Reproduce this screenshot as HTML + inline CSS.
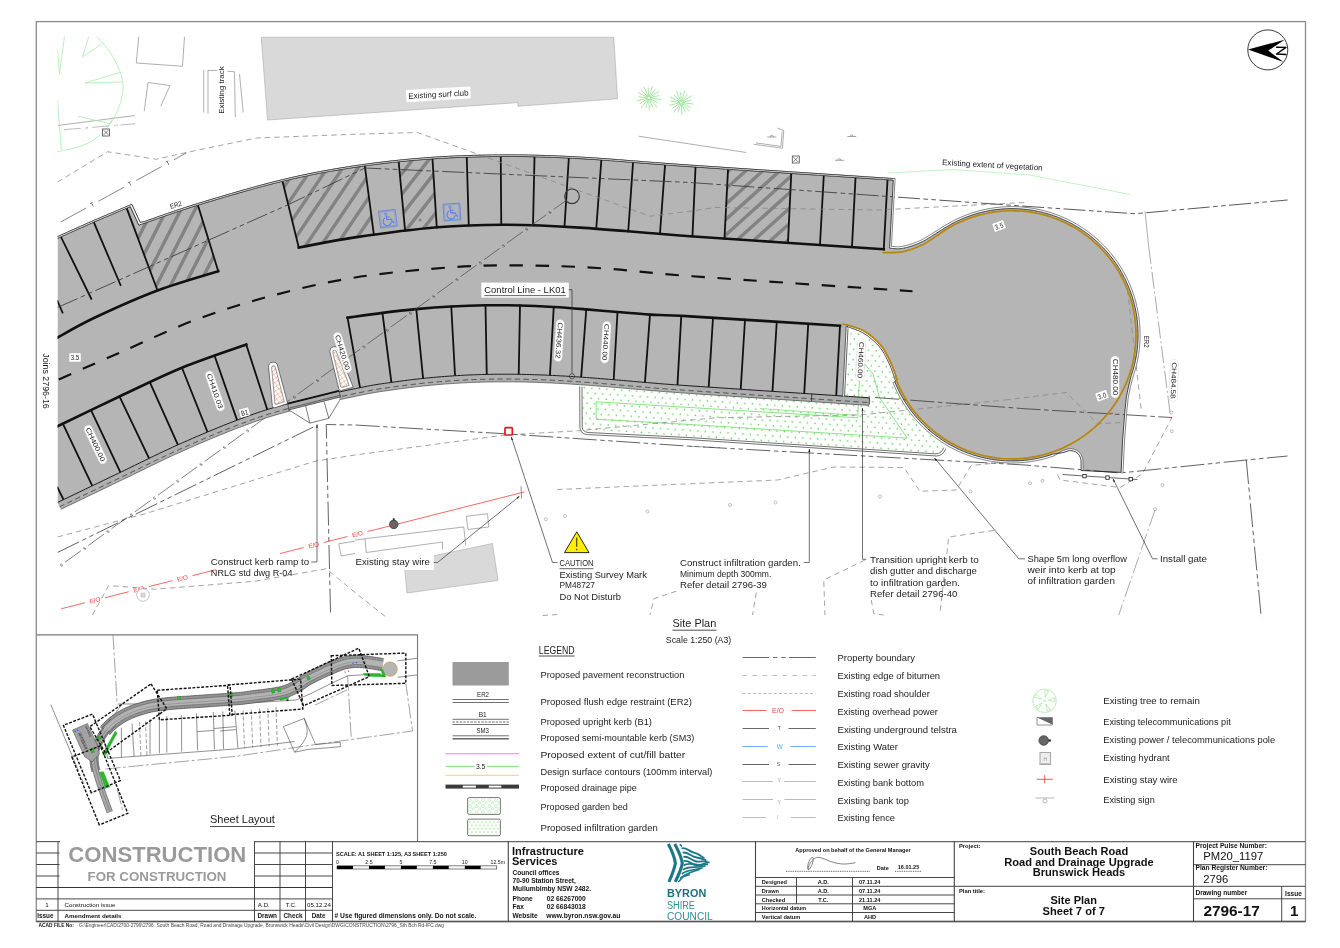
<!DOCTYPE html>
<html><head><meta charset="utf-8"><title>Site Plan 2796-17</title>
<style>
html,body{margin:0;padding:0;background:#fff;}
body{width:1340px;height:948px;overflow:hidden;font-family:"Liberation Sans",sans-serif;}
svg{display:block;filter:brightness(1);font-family:"Liberation Sans",sans-serif;}
.c{font-family:"Liberation Sans",sans-serif;fill:#1c1c1c;}
.b{font-weight:bold;fill:#111;}
</style></head><body>
<svg width="1340" height="948" viewBox="0 0 1340 948">
<rect x="0" y="0" width="1340" height="948" fill="#fff"/>
<defs>
<clipPath id="vp"><rect x="57.5" y="36.6" width="1232" height="584"/></clipPath>
<pattern id="h1" width="40" height="12.7" patternUnits="userSpaceOnUse" patternTransform="rotate(-56)"><rect x="0" y="0" width="40" height="3.3" fill="#838383"/></pattern>
<pattern id="h2" width="40" height="12.7" patternUnits="userSpaceOnUse" patternTransform="rotate(-52)"><rect x="0" y="0" width="40" height="3.3" fill="#838383"/></pattern>
<pattern id="h3" width="40" height="11.6" patternUnits="userSpaceOnUse" patternTransform="rotate(-63)"><rect x="0" y="0" width="40" height="3.3" fill="#838383"/></pattern>
<pattern id="h4" width="40" height="11.4" patternUnits="userSpaceOnUse" patternTransform="rotate(-42)"><rect x="0" y="0" width="40" height="3.3" fill="#838383"/></pattern>
<pattern id="dots" width="7.5" height="10.2" patternUnits="userSpaceOnUse" patternTransform="rotate(3.8)"><rect x="0.6" y="0.6" width="1.35" height="1.35" fill="#4fcf48"/><rect x="4.35" y="5.7" width="1.35" height="1.35" fill="#4fcf48"/></pattern>
<pattern id="xh" width="5.2" height="5.2" patternUnits="userSpaceOnUse" patternTransform="rotate(12)"><path d="M-1 -1L6.2 6.2M6.2 -1L-1 6.2" stroke="#f29c7e" stroke-width="0.6" fill="none"/></pattern>
<marker id="ar" viewBox="0 0 10 10" refX="9.5" refY="5" markerWidth="7.6" markerHeight="4.6" orient="auto-start-reverse"><path d="M0 2.4L10 5L0 7.6Z" fill="#111"/></marker>
</defs>
<g id="plan" clip-path="url(#vp)">
<path d="M261.25 37L613.75 37L617.5 98.75L518 106.25L518 102.6L267.5 120Z" fill="#d9d9d9" stroke="#a9a9a9" stroke-width="0.6"/>
<path d="M404 562L492.5 543.5L498 580.5L407 593Z" fill="#d9d9d9" stroke="#a9a9a9" stroke-width="0.6"/>
<path d="M138.75 36.6L136.25 63L182.5 66.25L184.5 36.6M144.25 111.25L148 82.5L170 85.5L160.75 106.25M203.75 70L203.75 112.5M208 70L208 113.75M208 70.4L217.5 70.4M227.5 71.2L234 71.7M234.5 71.5L235.3 117M239.5 74L243.25 112.5M57.5 125.5L135 115.5M638.75 136.25L746.25 152.5M753.75 144.25L782.5 148.25L783.75 130.75L777.5 128M756 142.9L781 146.4L782.2 131.5M355 540L365 538.75L463.75 527L465.75 545.5M365 538.75L366.25 552.5L442.5 542L442.5 549.25M466.25 516.25L487.5 513.75L488.75 527L468 529.5ZM338.75 543.75L355 541.25M338.75 543.75L341.25 556L355 553.5" fill="none" stroke="#8c8c8c" stroke-width="0.7"/>
<path d="M57.5 238.3 L59.32 237.49 L61.6 236.46 L64.29 235.26 L67.3 233.91 L70.57 232.44 L74.04 230.89 L77.62 229.28 L81.27 227.66 L84.89 226.05 L88.44 224.48 L91.83 222.99 L95 221.6 L98.14 220.24 L101.43 218.83 L104.83 217.38 L108.27 215.92 L111.69 214.47 L115.04 213.06 L118.27 211.7 L121.3 210.43 L124.09 209.26 L126.57 208.21 L128.7 207.32 L130.4 206.6 L138.9 225.1 L141.65 224.15 L144.98 222.98 L148.83 221.62 L153.15 220.09 L157.87 218.42 L162.94 216.65 L168.31 214.79 L173.92 212.87 L179.71 210.93 L185.62 208.98 L191.6 207.06 L197.6 205.2 L203.8 203.31 L210.38 201.33 L217.27 199.26 L224.42 197.15 L231.75 195 L239.19 192.85 L246.68 190.72 L254.15 188.64 L261.53 186.63 L268.76 184.71 L275.78 182.9 L282.5 181.24 L288.97 179.71 L295.27 178.27 L301.44 176.91 L307.49 175.63 L313.46 174.42 L319.37 173.27 L325.24 172.18 L331.11 171.13 L336.99 170.12 L342.92 169.15 L348.91 168.2 L355 167.27 L361.16 166.36 L367.36 165.49 L373.57 164.66 L379.81 163.87 L386.07 163.12 L392.34 162.41 L398.62 161.74 L404.91 161.12 L411.19 160.53 L417.47 159.98 L423.74 159.47 L430 159 L436.25 158.57 L442.5 158.19 L448.75 157.85 L455 157.56 L461.25 157.3 L467.5 157.08 L473.75 156.9 L480 156.75 L486.25 156.64 L492.5 156.56 L498.75 156.5 L505 156.47 L511.14 156.47 L517.09 156.49 L522.93 156.54 L528.7 156.62 L534.48 156.73 L540.31 156.88 L546.27 157.06 L552.41 157.28 L558.79 157.55 L565.47 157.85 L572.52 158.2 L580 158.6 L587.64 159.05 L595.23 159.54 L602.85 160.07 L610.62 160.64 L618.63 161.25 L626.98 161.9 L635.78 162.6 L645.13 163.33 L655.12 164.1 L665.86 164.9 L677.46 165.74 L690 166.62 L704.32 167.6 L720.84 168.71 L739.03 169.92 L758.39 171.21 L778.39 172.53 L798.52 173.86 L818.28 175.16 L837.14 176.4 L854.58 177.55 L870.1 178.57 L883.18 179.43 L893.3 180.1 L893.3 180.1 L889.6 248.2 L890.21 248.23 L890.94 248.29 L891.8 248.38 L892.76 248.47 L893.8 248.57 L894.92 248.66 L896.11 248.73 L897.34 248.77 L898.61 248.77 L899.91 248.71 L901.21 248.59 L902.5 248.4 L903.83 248.14 L905.22 247.83 L906.68 247.47 L908.18 247.06 L909.71 246.61 L911.27 246.12 L912.85 245.6 L914.42 245.05 L915.99 244.47 L917.53 243.87 L919.04 243.24 L920.5 242.6 L921.98 241.89 L923.53 241.08 L925.12 240.2 L926.72 239.27 L928.32 238.3 L929.88 237.34 L931.37 236.39 L932.78 235.49 L934.07 234.65 L935.22 233.91 L936.21 233.29 L937 232.8 L942.46 229.42 L947.89 226.04 L953.48 222.93 L959.23 220.12 L965.11 217.59 L971.11 215.37 L977.22 213.46 L983.42 211.86 L989.69 210.57 L996.01 209.6 L1002.38 208.96 L1008.77 208.64 L1015.17 208.64 L1021.56 208.97 L1027.93 209.62 L1034.25 210.6 L1040.52 211.89 L1046.72 213.5 L1052.82 215.42 L1058.82 217.65 L1064.7 220.18 L1070.44 223 L1076.03 226.11 L1081.46 229.5 L1086.71 233.16 L1091.77 237.09 L1096.62 241.26 L1101.25 245.68 L1105.65 250.32 L1109.81 255.18 L1113.72 260.25 L1117.37 265.5 L1120.75 270.94 L1123.85 276.54 L1126.66 282.29 L1129.17 288.18 L1131.38 294.18 L1133.29 300.29 L1134.88 306.49 L1136.16 312.76 L1137.12 319.09 L1137.75 325.46 L1138.07 331.85 L1138.05 338.25 L1137.72 344.64 L1137.06 351 L1136.07 357.33 L1134.77 363.59 L1133.15 369.78 L1131.22 375.89 L1131.2 375.9 L1128.6 386 L1126.4 397 L1125 410 L1122.6 440 L1121.1 472.4 L1081.1 470.5 L1081.1 461 L1080.65 458.31 L1079.61 455.8 L1077.95 453.65 L1075.8 451.99 L1073.29 450.95 L1070.6 450.6 L1068.79 450.76 L1063 452.6 L1052.67 454.23 L1048.11 455.69 L1043.5 456.98 L1038.84 458.09 L1034.15 459.02 L1029.42 459.78 L1024.66 460.35 L1019.89 460.75 L1015.11 460.96 L1010.32 460.99 L1005.54 460.84 L1000.76 460.51 L996 459.99 L991.26 459.3 L986.55 458.43 L981.88 457.38 L977.26 456.15 L972.68 454.75 L968.16 453.18 L963.7 451.43 L959.31 449.52 L954.99 447.44 L950.76 445.2 L946.62 442.8 L942.57 440.25 L938.62 437.54 L934.77 434.69 L931.04 431.69 L927.42 428.56 L923.93 425.28 L920.56 421.88 L917.32 418.36 L914.22 414.71 L911.26 410.95 L908.44 407.07 L905.78 403.1 L903.26 399.02 L900.91 394.86 L898.71 390.6 L896.67 386.27 L894.8 381.86 L895.44 380.73 L895.13 379.78 L894.78 378.67 L894.38 377.43 L893.95 376.07 L893.48 374.62 L892.97 373.12 L892.43 371.57 L891.86 370.02 L891.26 368.47 L890.64 366.95 L890 365.5 L889.34 364.06 L888.65 362.57 L887.94 361.05 L887.21 359.5 L886.44 357.94 L885.64 356.38 L884.81 354.82 L883.94 353.28 L883.02 351.77 L882.06 350.29 L881.06 348.87 L880 347.5 L878.88 346.17 L877.7 344.86 L876.46 343.56 L875.18 342.29 L873.85 341.04 L872.49 339.82 L871.1 338.65 L869.69 337.51 L868.27 336.43 L866.84 335.39 L865.42 334.42 L864 333.5 L862.52 332.64 L860.93 331.82 L859.26 331.05 L857.54 330.33 L855.81 329.65 L854.1 329.02 L852.45 328.45 L850.88 327.91 L849.44 327.43 L848.16 327 L847.07 326.63 L846.2 326.3 L842.7 396.3 L834.09 395.45 L817.98 394.38 L800.62 393.23 L782.56 392.03 L764.35 390.82 L746.52 389.63 L729.62 388.5 L714.21 387.47 L700.82 386.57 L690 385.83 L681.5 385.24 L674.56 384.75 L668.97 384.35 L664.53 384.02 L661.02 383.75 L658.23 383.52 L655.96 383.33 L654 383.15 L652.13 382.99 L650.15 382.81 L647.84 382.61 L645 382.38 L641.92 382.13 L639.01 381.88 L636.25 381.65 L633.61 381.42 L631.07 381.2 L628.59 380.98 L626.16 380.76 L623.75 380.55 L621.33 380.34 L618.87 380.13 L616.35 379.91 L613.75 379.7 L611.08 379.48 L608.39 379.26 L605.68 379.04 L602.96 378.82 L600.23 378.6 L597.5 378.38 L594.77 378.16 L592.04 377.95 L589.32 377.74 L586.61 377.54 L583.92 377.35 L581.25 377.16 L578.6 376.98 L575.97 376.81 L573.35 376.63 L570.74 376.47 L568.14 376.3 L565.55 376.14 L562.96 375.99 L560.37 375.84 L557.78 375.7 L555.19 375.57 L552.6 375.44 L550 375.32 L547.4 375.2 L544.8 375.09 L542.21 374.98 L539.61 374.88 L537.02 374.79 L534.42 374.7 L531.82 374.62 L529.22 374.54 L526.62 374.48 L524 374.42 L521.38 374.37 L518.75 374.32 L516.11 374.29 L513.46 374.26 L510.8 374.24 L508.13 374.23 L505.46 374.22 L502.78 374.22 L500.1 374.23 L497.43 374.25 L494.75 374.27 L492.08 374.31 L489.41 374.35 L486.75 374.41 L484.1 374.47 L481.45 374.54 L478.8 374.62 L476.16 374.71 L473.52 374.81 L470.88 374.91 L468.23 375.03 L465.59 375.15 L462.95 375.28 L460.3 375.43 L457.65 375.58 L455 375.74 L452.34 375.91 L449.68 376.09 L447.01 376.29 L444.34 376.49 L441.67 376.7 L439 376.92 L436.33 377.14 L433.66 377.38 L430.99 377.63 L428.32 377.89 L425.66 378.15 L423 378.43 L420.34 378.71 L417.69 379 L415.03 379.31 L412.38 379.62 L409.73 379.94 L407.08 380.27 L404.43 380.61 L401.79 380.96 L399.15 381.32 L396.51 381.68 L393.88 382.06 L391.25 382.44 L388.76 382.79 L386.49 383.11 L384.37 383.4 L382.32 383.68 L380.28 383.97 L378.17 384.28 L375.92 384.64 L373.45 385.06 L370.7 385.55 L367.59 386.13 L364.05 386.82 L360 387.65 L355.33 388.61 L350.04 389.7 L344.25 390.91 L338.06 392.21 L331.58 393.59 L324.92 395.03 L318.2 396.5 L311.53 397.99 L305.01 399.49 L298.76 400.96 L292.89 402.4 L287.5 403.79 L282.58 405.11 L277.98 406.38 L273.65 407.63 L269.54 408.86 L265.58 410.09 L261.72 411.34 L257.9 412.62 L254.07 413.94 L250.18 415.33 L246.15 416.79 L241.95 418.34 L237.5 420 L232.84 421.77 L228.05 423.63 L223.14 425.57 L218.15 427.59 L213.08 429.67 L207.97 431.79 L202.83 433.96 L197.69 436.16 L192.56 438.37 L187.47 440.59 L182.44 442.8 L177.5 445 L172.64 447.2 L167.83 449.41 L163.07 451.64 L158.33 453.89 L153.62 456.15 L148.91 458.44 L144.19 460.74 L139.44 463.06 L134.67 465.39 L129.84 467.74 L124.96 470.11 L120 472.5 L114.77 475.01 L109.15 477.7 L103.26 480.53 L97.22 483.43 L91.15 486.34 L85.16 489.22 L79.36 492 L73.89 494.63 L68.85 497.05 L64.36 499.21 L60.54 501.04 L57.5 502.5Z" fill="#b5b5b5" stroke="none"/>
<clipPath id="z1"><path d="M282.5 181.25 L282.5 181.24 L288.97 179.71 L295.27 178.27 L301.44 176.91 L307.49 175.63 L313.46 174.42 L319.37 173.27 L325.24 172.18 L331.11 171.13 L336.99 170.12 L342.92 169.15 L348.91 168.2 L355 167.27 L361.16 166.36 L365 167.5 L373.75 233.75 L367.4 235.59 L361 236.49 L355 237.36 L349.21 238.24 L343.45 239.17 L337.77 240.14 L332.22 241.13 L326.85 242.11 L321.72 243.08 L316.87 244.02 L312.36 244.9 L308.24 245.71 L304.57 246.43 L301.38 247.05 L298.75 247.54 L298.75 247.5Z"/></clipPath><path d="M231.05 219.96L303.83 112.07M241.58 227.06L314.35 119.17M252.11 234.16L324.88 126.28M262.64 241.27L335.41 133.38M273.17 248.37L345.94 140.48M283.7 255.47L356.47 147.58M294.23 262.57L367 154.68M304.76 269.67L377.53 161.79M315.28 276.77L388.06 168.89M325.81 283.88L398.58 175.99M336.34 290.98L409.11 183.09M346.87 298.08L419.64 190.19" clip-path="url(#z1)" stroke="#838383" stroke-width="3.4" fill="none"/>
<clipPath id="z2"><path d="M398.75 162.5 L404.91 161.12 L411.19 160.53 L417.47 159.98 L423.74 159.47 L430 159 L432.5 159.5 L436.75 227 L431.07 227.84 L424.31 228.51 L417.31 229.25 L410.14 230.06 L405 229.5Z"/></clipPath><path d="M350.45 198.16L404.99 128.35M360.46 205.98L415 136.17M370.46 213.8L425.01 143.99M380.47 221.62L435.01 151.81M390.48 229.43L445.02 159.62M400.49 237.25L455.03 167.44M410.49 245.07L465.04 175.26M420.5 252.89L475.04 183.08" clip-path="url(#z2)" stroke="#838383" stroke-width="3.4" fill="none"/>
<clipPath id="z3"><path d="M132.9 224.5 L138.9 225.1 L141.65 224.15 L144.98 222.98 L148.83 221.62 L153.15 220.09 L157.87 218.42 L162.94 216.65 L168.31 214.79 L173.92 212.87 L179.71 210.93 L185.62 208.98 L191.6 207.06 L197.6 205.2 L198 205.5 L218.25 271.25 L218.25 271.25 L215.32 272.16 L211.66 273.25 L207.38 274.53 L202.56 275.95 L197.33 277.51 L191.78 279.19 L186.01 280.96 L180.13 282.8 L174.23 284.69 L168.43 286.62 L162.82 288.56 L157.5 290.5 L157.5 290.5Z"/></clipPath><path d="M79.01 270.85L137.42 156.21M90.23 276.57L148.65 161.93M101.46 282.29L159.88 167.65M112.69 288.01L171.1 173.37M123.91 293.73L182.33 179.09M135.14 299.45L193.56 184.81M146.37 305.17L204.78 190.53M157.59 310.89L216.01 196.25M168.82 316.61L227.24 201.97M180.05 322.33L238.46 207.69M191.27 328.05L249.69 213.41M202.5 333.77L260.92 219.13" clip-path="url(#z3)" stroke="#838383" stroke-width="3.4" fill="none"/>
<clipPath id="z4"><path d="M728 170 L739.03 169.92 L758.39 171.21 L778.39 172.53 L791.25 173.75 L788 241.25 L774.6 242.01 L755.56 240.73 L737.09 239.49 L724.5 238Z"/></clipPath><path d="M680.26 199.15L759.21 128.06M687.89 207.62L766.84 136.53M695.51 216.1L774.47 145.01M703.14 224.57L782.1 153.48M710.77 233.04L789.72 161.95M718.4 241.51L797.35 170.42M726.03 249.98L804.98 178.89M733.65 258.46L812.61 187.36M741.28 266.93L820.24 195.84M748.91 275.4L827.86 204.31" clip-path="url(#z4)" stroke="#838383" stroke-width="3.4" fill="none"/>
<path d="M60.9 236.78L91.25 298.75M93.8 222.12L120.5 285M126.69 208.16L157.5 290.5M197.88 205.11L218.25 271.25M282.5 181.24L298.76 247.54M364.78 165.85L373.87 234.69M398.68 161.74L405.11 230.66M432.46 158.83L436.77 227.33M466.74 157.11L468.76 225.31M500.75 156.49L501.25 224.75M534.52 156.73L533.01 225.23M568.84 158.02L564.5 226.68M601.35 159.96L596.25 228.72M633.04 162.38L628.24 231.34M665.05 164.84L659.95 233.97M695.52 167L692.46 236.41M728.04 169.19L724.47 238.63M791.27 173.38L787.96 242.9M823.79 175.53L819.95 245.02M855.52 177.61L851.96 247.14M887.52 179.72L883.75 249.25M62.85 423.67L92.28 485.8M91.04 410.06L120.41 472.3M119.46 396.51L149.06 458.36M149.81 382.08L177.92 444.81M181.97 367.72L207.5 431.99M214.51 355.53L237.06 420.17M246.25 344.5L267.26 409.57M347.53 317.65L360.02 387.64M382.44 312.91L391.4 382.42M416.29 309.12L423.09 378.42M451.26 306.43L455.04 375.74M485.5 305.25L486.76 374.41M520 305.52L518.73 374.32M553.75 307.05L549.94 375.31M586.26 309.39L581.18 377.16M617.5 312.03L613.7 379.69M649.99 314.58L644.95 382.37M681.27 315.87L677.46 384.96M713 317.76L708.71 387.1M745 319.75L740.71 389.24M776.75 321.75L772.47 391.36M808.25 323.74L804.22 393.47M840 325.75L836.23 395.59M57.5 301L62.5 312.5M57.5 487.5L63.75 500" fill="none" stroke="#111" stroke-width="1.8" stroke-linecap="square"/>
<path d="M57.5 337.5 C63.75 334.17 78.33 325.33 95 317.5 C111.67 309.67 136.96 298.21 157.5 290.5 C178.04 282.79 208.12 274.46 218.25 271.25" fill="none" stroke="#111" stroke-width="2.6" stroke-linecap="square"/>
<path d="M298.75 247.54 C308.12 245.84 331.88 240.74 355 237.36 C378.12 233.98 412.5 229.36 437.5 227.26 C462.5 225.16 481.25 224.69 505 224.75 C528.75 224.8 549.17 225.68 580 227.6 C610.83 229.51 639.38 232.63 690 236.24 C740.62 239.85 851.46 247.08 883.75 249.25" fill="none" stroke="#111" stroke-width="2.6" stroke-linecap="square"/>
<path d="M57.5 426.25 C67.92 421.25 99.17 406.04 120 396.25 C140.83 386.46 161.46 376.12 182.5 367.5 C203.54 358.88 235.62 348.33 246.25 344.5" fill="none" stroke="#111" stroke-width="2.6" stroke-linecap="square"/>
<path d="M347.5 317.66 C353.33 316.87 371.04 314.33 382.5 312.91 C393.96 311.48 404.79 310.2 416.25 309.12 C427.71 308.04 439.71 307.08 451.25 306.44 C462.79 305.79 474.04 305.4 485.5 305.25 C496.96 305.1 508.62 305.22 520 305.52 C531.38 305.82 542.71 306.4 553.75 307.05 C564.79 307.69 575.62 308.56 586.25 309.39 C596.88 310.22 606.88 311.16 617.5 312.03 C628.12 312.89 637.92 313.86 650 314.58 C662.08 315.31 658.33 314.5 690 316.36 C721.67 318.22 815 324.18 840 325.75" fill="none" stroke="#111" stroke-width="2.6" stroke-linecap="square"/>
<path d="M57.5 380 C67.92 375.42 97.08 362.5 120 352.5 C142.92 342.5 170 329.38 195 320 C220 310.62 243.33 303.33 270 296.25 C296.67 289.17 324.17 282.38 355 277.5 C385.83 272.62 425.83 269 455 267 C484.17 265 505 265.25 530 265.5 C555 265.75 577.92 266.71 605 268.5 C632.08 270.29 641.25 272.46 692.5 276.25 C743.75 280.04 875.83 288.75 912.5 291.25" fill="none" stroke="#111" stroke-width="2.15" stroke-dasharray="13.5 12.57" stroke-dashoffset="24.47"/>
<path d="M582 387.4 L580.73 384.74 L583.38 384.93 L586.05 385.12 L588.75 385.32 L591.46 385.53 L594.17 385.74 L596.9 385.95 L599.63 386.17 L602.35 386.39 L605.07 386.61 L607.77 386.83 L610.46 387.05 L613.13 387.27 L615.72 387.49 L618.22 387.7 L620.67 387.91 L623.08 388.12 L625.49 388.33 L627.92 388.55 L630.4 388.77 L632.95 388.99 L635.6 389.22 L638.37 389.46 L641.29 389.7 L644.38 389.95 L647.2 390.18 L649.48 390.38 L651.45 390.56 L653.32 390.72 L655.31 390.9 L657.61 391.1 L660.42 391.32 L663.95 391.6 L668.42 391.93 L674.02 392.33 L680.97 392.82 L689.48 393.41 L700.31 394.15 L713.7 395.05 L729.12 396.09 L746.01 397.22 L763.84 398.4 L782.06 399.61 L800.12 400.81 L817.48 401.96 L833.59 403.03 L844.5 396.4 L848 328.4 L848.8 325.11 L850.07 325.54 L851.52 326.02 L853.1 326.55 L854.78 327.14 L856.52 327.78 L858.29 328.48 L860.07 329.22 L861.81 330.02 L863.48 330.88 L865.05 331.8 L866.52 332.75 L867.99 333.76 L869.46 334.82 L870.92 335.94 L872.37 337.11 L873.8 338.32 L875.2 339.56 L876.57 340.85 L877.89 342.16 L879.17 343.5 L880.39 344.86 L881.56 346.24 L882.67 347.68 L883.72 349.17 L884.72 350.7 L885.66 352.27 L886.56 353.85 L887.42 355.45 L888.23 357.04 L889.01 358.63 L889.75 360.2 L890.47 361.73 L891.15 363.22 L891.82 364.68 L892.48 366.17 L893.12 367.73 L893.73 369.31 L894.31 370.9 L894.86 372.47 L895.37 374 L895.85 375.45 L896.29 376.82 L896.68 378.07 L897.03 379.17 L897.34 380.1 L897.59 380.85 L892.95 382.61 L894.44 386.18 L896.05 389.7 L897.76 393.17 L899.57 396.59 L901.49 399.96 L903.51 403.26 L905.63 406.5 L907.84 409.68 L910.15 412.78 L912.55 415.82 L915.04 418.78 L917.62 421.67 L920.29 424.48 L923.04 427.2 L925.87 429.84 L928.78 432.4 L931.76 434.86 L934.82 437.24 L937.95 439.52 L941.14 441.7 L943.8 447.6 L941.5 452 L936 453.9 L690 437.6 L588 432.5 L583.5 430.6 L582.2 427Z" fill="#fff" stroke="none"/>
<path d="M582 387.4 L580.73 384.74 L583.38 384.93 L586.05 385.12 L588.75 385.32 L591.46 385.53 L594.17 385.74 L596.9 385.95 L599.63 386.17 L602.35 386.39 L605.07 386.61 L607.77 386.83 L610.46 387.05 L613.13 387.27 L615.72 387.49 L618.22 387.7 L620.67 387.91 L623.08 388.12 L625.49 388.33 L627.92 388.55 L630.4 388.77 L632.95 388.99 L635.6 389.22 L638.37 389.46 L641.29 389.7 L644.38 389.95 L647.2 390.18 L649.48 390.38 L651.45 390.56 L653.32 390.72 L655.31 390.9 L657.61 391.1 L660.42 391.32 L663.95 391.6 L668.42 391.93 L674.02 392.33 L680.97 392.82 L689.48 393.41 L700.31 394.15 L713.7 395.05 L729.12 396.09 L746.01 397.22 L763.84 398.4 L782.06 399.61 L800.12 400.81 L817.48 401.96 L833.59 403.03 L844.5 396.4 L848 328.4 L848.8 325.11 L850.07 325.54 L851.52 326.02 L853.1 326.55 L854.78 327.14 L856.52 327.78 L858.29 328.48 L860.07 329.22 L861.81 330.02 L863.48 330.88 L865.05 331.8 L866.52 332.75 L867.99 333.76 L869.46 334.82 L870.92 335.94 L872.37 337.11 L873.8 338.32 L875.2 339.56 L876.57 340.85 L877.89 342.16 L879.17 343.5 L880.39 344.86 L881.56 346.24 L882.67 347.68 L883.72 349.17 L884.72 350.7 L885.66 352.27 L886.56 353.85 L887.42 355.45 L888.23 357.04 L889.01 358.63 L889.75 360.2 L890.47 361.73 L891.15 363.22 L891.82 364.68 L892.48 366.17 L893.12 367.73 L893.73 369.31 L894.31 370.9 L894.86 372.47 L895.37 374 L895.85 375.45 L896.29 376.82 L896.68 378.07 L897.03 379.17 L897.34 380.1 L897.59 380.85 L892.95 382.61 L894.44 386.18 L896.05 389.7 L897.76 393.17 L899.57 396.59 L901.49 399.96 L903.51 403.26 L905.63 406.5 L907.84 409.68 L910.15 412.78 L912.55 415.82 L915.04 418.78 L917.62 421.67 L920.29 424.48 L923.04 427.2 L925.87 429.84 L928.78 432.4 L931.76 434.86 L934.82 437.24 L937.95 439.52 L941.14 441.7 L943.8 447.6 L941.5 452 L936 453.9 L690 437.6 L588 432.5 L583.5 430.6 L582.2 427Z" fill="url(#dots)" stroke="none"/>
<path d="M582 386.6L582.2 427Q582.4 431.6 588 432.5L690 437.6L936 453.9Q941.5 453.6 943.8 447.6" fill="none" stroke="#333" stroke-width="0.7"/>
<path d="M579.7 386.4L579.9 427.5Q580.3 433.8 587.3 434.6L690 439.7L936.5 456Q943 455.8 945.8 448.6" fill="none" stroke="#333" stroke-width="0.7"/>
<path d="M596.2 401.8L690 407.5L857.8 417.8L859.5 378L862 361L873 374L879.5 397.5L907.2 438.1L690 424.5L596.2 419.2Z" fill="none" stroke="#6fdc66" stroke-width="0.8"/>
<path d="M760 408.5L855 415.2" fill="none" stroke="#6fdc66" stroke-width="0.7"/>
<path d="M96.5 36.2 C97.58 37.4 100.33 40.1 103 43.4 C105.67 46.7 109.65 51.27 112.5 56 C115.35 60.73 118.33 66.97 120.1 71.8 C121.87 76.63 122.82 80.8 123.1 85 C123.38 89.2 122.53 93.23 121.8 97 C121.07 100.77 120.47 103.35 118.7 107.6 C116.93 111.85 114.2 118.02 111.2 122.5 C108.2 126.98 104.07 131.33 100.7 134.5 C97.33 137.67 94.47 139.52 91 141.5 C87.53 143.48 84.75 144.83 79.9 146.4 C75.05 147.97 65.72 150.05 61.9 150.9 C58.08 151.75 57.82 151.4 57 151.5" fill="none" stroke="#a8ecaa" stroke-width="0.8"/>
<path d="M88.75 36.6L82.5 56.75L102.5 43.75M120 72.5L85 83L122 82M78 116.25L110.5 123.75L111.5 119.5M64.5 36.6L59.5 73.75L57.5 50M57.5 100L61.25 150" fill="none" stroke="#a8ecaa" stroke-width="0.8"/>
<path d="M649.94 98.15L661.16 99.52M649.82 98.54L658.11 102.77M649.57 98.88L657.27 107.14M649.22 99.1L652.85 107.67M648.81 99.2L649.4 110.48M648.4 99.15L645.68 108.04M648.03 98.96L641.23 107.98M647.74 98.65L639.94 103.72M647.58 98.27L636.57 100.81M647.56 97.85L638.33 96.72M647.68 97.46L637.61 92.33M647.93 97.12L641.59 90.32M648.28 96.9L643.87 86.49M648.69 96.8L648.2 87.51M649.1 96.85L652.4 86.05M649.47 97.04L655.07 89.61M649.76 97.35L659.23 91.19M649.92 97.73L658.98 95.64" fill="none" stroke="#7fe07f" stroke-width="0.7"/>
<path d="M682.44 102.65L693.66 104.02M682.32 103.04L690.61 107.27M682.07 103.38L689.77 111.64M681.72 103.6L685.35 112.17M681.31 103.7L681.9 114.98M680.9 103.65L678.18 112.54M680.53 103.46L673.73 112.48M680.24 103.15L672.44 108.22M680.08 102.77L669.07 105.31M680.06 102.35L670.83 101.22M680.18 101.96L670.11 96.83M680.43 101.62L674.09 94.82M680.78 101.4L676.37 90.99M681.19 101.3L680.7 92.01M681.6 101.35L684.9 90.55M681.97 101.54L687.57 94.11M682.26 101.85L691.73 95.69M682.42 102.23L691.48 100.14" fill="none" stroke="#7fe07f" stroke-width="0.7"/>
<path d="M887.5 173L952.5 169.5L1030 175L1130 194.5" fill="none" stroke="#a8ecaa" stroke-width="0.7"/>
<path d="M57.5 182L107.5 151.75L156.25 159.25L186.25 152.5L256.25 138L355 134.25L417.5 132.5L650 216.25L690 211.25L715 207.5L877.5 210L1025 202.5M57.5 537L145 513.75L315 461.25L355 455L430 445L505 435L577.5 430.8L715.3 417.8L860.7 414.9L959.5 404.7L1005 400M92.5 615L108.75 585.5L155 589.25L255 581.25L326.25 568.75L355 592.5L385 616.25M557 489.5L690 483.75L777.5 480L833.75 467L903.75 467.5L920 491.25L956.25 490L971.25 465.5L1025 460M1057.5 474.5L1060 480L1120 487.5L1142.5 473.75L1171.25 418.75M676.25 591.25L653.75 598.75L650 615M542.5 615.5L557.5 614.5M865 560L823.75 580L825 615M756.25 592.5L752.5 615M993.75 530.5L948.75 537L940 612.5M871.25 600L873.75 613.75L883.75 615M1005 400L1066.25 392.5L1097.5 423.75L1122.5 422.5M1127.5 290L1141.25 410M690 446.3L720 447.6" fill="none" stroke="#858585" stroke-width="0.75" stroke-dasharray="5.5 4"/>
<path d="M63.75 129.7L135 123.75" fill="none" stroke="#aaa" stroke-width="0.8" stroke-dasharray="17 5 1.5 5"/>
<path d="M86.8 128.9L87.7 126.5M116.5 126.4L117.4 124" fill="none" stroke="#aaa" stroke-width="0.7"/>
<path d="M1148.75 247L1170 412.5M1155 510L1118.75 615" fill="none" stroke="#858585" stroke-width="0.7" stroke-dasharray="17 3 2 3"/>
<path d="M1145 211.25L1148.75 247" fill="none" stroke="#8c8c8c" stroke-width="0.7"/>
<path d="M57.5 307.5L287.5 205L365 168L690 182.5L885 196.25L1025 206.25L1135 213.75L1287.5 200" fill="none" stroke="#3a3a3a" stroke-width="0.85" stroke-dasharray="22 3.5 4.5 3.5 4.5 3.5"/>
<path d="M57.5 552.5L317.5 425M330.5 612.5L326.25 424.5L355 425L505 433.75L690 446.25L1025 465L1120 473L1246.25 460L1287.5 456M1246.25 460L1261.25 617.5" fill="none" stroke="#3a3a3a" stroke-width="0.8" stroke-dasharray="24 3.5 4.5 3.5 4.5 3.5"/>
<path d="M875 397.5L1025 408.75L1171.25 417.5" fill="none" stroke="#3a3a3a" stroke-width="0.8" stroke-dasharray="24 3.5 4.5 3.5"/>
<circle cx="1112" cy="413.3" r="0.9" fill="#e33"/><circle cx="1171.3" cy="417.6" r="0.9" fill="#e33"/>
<path d="M60.7 221.99L86.11 208.03M98.47 201.24L123.89 187.27M136.24 180.48L161.66 166.51M174.02 159.72L186.25 153" fill="none" stroke="#555" stroke-width="0.7"/>
<text x="92.29" y="206.73" font-size="6" text-anchor="middle" fill="#333" transform="rotate(-28.79 92.29 204.63)">T</text>
<text x="130.07" y="185.97" font-size="6" text-anchor="middle" fill="#333" transform="rotate(-28.79 130.07 183.87)">T</text>
<text x="167.84" y="165.22" font-size="6" text-anchor="middle" fill="#333" transform="rotate(-28.79 167.84 163.12)">T</text>
<path d="M566.3 200.3L553.65 209.43M546.19 214.82L530.38 226.23M522.93 231.62L507.12 243.04M499.66 248.42L483.85 259.84M476.39 265.22L460.58 276.64M453.12 282.03L437.31 293.44M429.86 298.83L414.05 310.24M406.59 315.63L390.78 327.05M383.32 332.43L367.51 343.85M360.05 349.23L344.24 360.65M336.78 366.03L320.98 377.45M313.52 382.84L297.71 394.25M290.25 399.64L274.44 411.05M266.98 416.44L251.17 427.86M243.71 433.24L227.9 444.66M220.45 450.04L204.64 461.46M197.18 466.85L181.37 478.26M173.91 483.65L158.1 495.06M150.64 500.45L134.83 511.87M127.37 517.25L111.57 528.67M104.11 534.05L88.3 545.47M80.84 550.85L65.03 562.27" fill="none" stroke="#4a4a4a" stroke-width="0.7"/>
<text x="549.92" y="213.83" font-size="5.2" text-anchor="middle" fill="#333" transform="rotate(324.17 549.92 212.13)">s</text>
<text x="526.66" y="230.63" font-size="5.2" text-anchor="middle" fill="#333" transform="rotate(324.17 526.66 228.93)">s</text>
<text x="503.39" y="247.43" font-size="5.2" text-anchor="middle" fill="#333" transform="rotate(324.17 503.39 245.73)">s</text>
<text x="480.12" y="264.23" font-size="5.2" text-anchor="middle" fill="#333" transform="rotate(324.17 480.12 262.53)">s</text>
<text x="456.85" y="281.03" font-size="5.2" text-anchor="middle" fill="#333" transform="rotate(324.17 456.85 279.33)">s</text>
<text x="433.58" y="297.83" font-size="5.2" text-anchor="middle" fill="#333" transform="rotate(324.17 433.58 296.13)">s</text>
<text x="410.32" y="314.64" font-size="5.2" text-anchor="middle" fill="#333" transform="rotate(324.17 410.32 312.94)">s</text>
<text x="387.05" y="331.44" font-size="5.2" text-anchor="middle" fill="#333" transform="rotate(324.17 387.05 329.74)">s</text>
<text x="363.78" y="348.24" font-size="5.2" text-anchor="middle" fill="#333" transform="rotate(324.17 363.78 346.54)">s</text>
<text x="340.51" y="365.04" font-size="5.2" text-anchor="middle" fill="#333" transform="rotate(324.17 340.51 363.34)">s</text>
<text x="317.25" y="381.84" font-size="5.2" text-anchor="middle" fill="#333" transform="rotate(324.17 317.25 380.14)">s</text>
<text x="293.98" y="398.65" font-size="5.2" text-anchor="middle" fill="#333" transform="rotate(324.17 293.98 396.95)">s</text>
<text x="270.71" y="415.45" font-size="5.2" text-anchor="middle" fill="#333" transform="rotate(324.17 270.71 413.75)">s</text>
<text x="247.44" y="432.25" font-size="5.2" text-anchor="middle" fill="#333" transform="rotate(324.17 247.44 430.55)">s</text>
<text x="224.17" y="449.05" font-size="5.2" text-anchor="middle" fill="#333" transform="rotate(324.17 224.17 447.35)">s</text>
<text x="200.91" y="465.85" font-size="5.2" text-anchor="middle" fill="#333" transform="rotate(324.17 200.91 464.15)">s</text>
<text x="177.64" y="482.65" font-size="5.2" text-anchor="middle" fill="#333" transform="rotate(324.17 177.64 480.95)">s</text>
<text x="154.37" y="499.46" font-size="5.2" text-anchor="middle" fill="#333" transform="rotate(324.17 154.37 497.76)">s</text>
<text x="131.1" y="516.26" font-size="5.2" text-anchor="middle" fill="#333" transform="rotate(324.17 131.1 514.56)">s</text>
<text x="107.84" y="533.06" font-size="5.2" text-anchor="middle" fill="#333" transform="rotate(324.17 107.84 531.36)">s</text>
<text x="84.57" y="549.86" font-size="5.2" text-anchor="middle" fill="#333" transform="rotate(324.17 84.57 548.16)">s</text>
<text x="61.3" y="566.66" font-size="5.2" text-anchor="middle" fill="#333" transform="rotate(324.17 61.3 564.96)">s</text>
<circle cx="572" cy="196.3" r="7.3" fill="none" stroke="#3a3a3a" stroke-width="1.2"/>
<path d="M61.25 608.75L85 602.76M105 597.71L128.75 591.72M148.75 586.67L172.5 580.68M192.5 575.63L216.25 569.64M280 553.55L303.75 547.56M323.75 542.51L347.5 536.52M367.5 531.47L370 530.84M370 531L524.5 491.9M521 486.3L521.6 498.6" fill="none" stroke="#f2413c" stroke-width="0.8"/>
<text x="95" y="602.53" font-size="6.3" text-anchor="middle" textLength="11" lengthAdjust="spacingAndGlyphs" fill="#f2413c" transform="rotate(-14.16 95 600.23)">E/O</text>
<text x="138.75" y="591.49" font-size="6.3" text-anchor="middle" textLength="11" lengthAdjust="spacingAndGlyphs" fill="#f2413c" transform="rotate(-14.16 138.75 589.19)">E/O</text>
<text x="182.5" y="580.45" font-size="6.3" text-anchor="middle" textLength="11" lengthAdjust="spacingAndGlyphs" fill="#f2413c" transform="rotate(-14.16 182.5 578.15)">E/O</text>
<text x="313.75" y="547.33" font-size="6.3" text-anchor="middle" textLength="11" lengthAdjust="spacingAndGlyphs" fill="#f2413c" transform="rotate(-14.16 313.75 545.03)">E/O</text>
<text x="357.5" y="536.29" font-size="6.3" text-anchor="middle" textLength="11" lengthAdjust="spacingAndGlyphs" fill="#f2413c" transform="rotate(-14.16 357.5 533.99)">E/O</text>
<circle cx="393.8" cy="524.4" r="4.3" fill="#666" stroke="#333" stroke-width="0.7"/><rect x="392.9" y="518.2" width="1.8" height="2.4" fill="#333"/>
<circle cx="143" cy="595" r="6.3" fill="#fff" stroke="#aaa" stroke-width="0.7"/><rect x="141" y="593" width="4" height="4" fill="#ddd" stroke="#aaa" stroke-width="0.5"/>
<circle cx="545.75" cy="519.25" r="1.5" fill="none" stroke="#999" stroke-width="0.6"/><circle cx="565" cy="516" r="1.5" fill="none" stroke="#999" stroke-width="0.6"/><circle cx="647.5" cy="511.5" r="1.5" fill="none" stroke="#999" stroke-width="0.6"/><circle cx="730" cy="505" r="1.5" fill="none" stroke="#999" stroke-width="0.6"/><circle cx="775.5" cy="502.5" r="1.5" fill="none" stroke="#999" stroke-width="0.6"/><circle cx="880" cy="496.25" r="1.5" fill="none" stroke="#999" stroke-width="0.6"/><circle cx="970.5" cy="491.5" r="1.5" fill="none" stroke="#999" stroke-width="0.6"/><circle cx="1171.25" cy="412.5" r="1.5" fill="none" stroke="#999" stroke-width="0.6"/><circle cx="1171.75" cy="431.25" r="1.5" fill="none" stroke="#999" stroke-width="0.6"/><circle cx="1162.5" cy="485" r="1.5" fill="none" stroke="#999" stroke-width="0.6"/><circle cx="1155" cy="509.25" r="1.5" fill="none" stroke="#999" stroke-width="0.6"/><circle cx="1030" cy="483.25" r="1.5" fill="none" stroke="#999" stroke-width="0.6"/><circle cx="1042.5" cy="480.75" r="1.5" fill="none" stroke="#999" stroke-width="0.6"/>
<path d="M767.25 137H776.25M770.15 137A1.6 1.6 0 0 1 773.35 137" fill="none" stroke="#777" stroke-width="0.65"/>
<path d="M847.25 136.5H856.25M850.15 136.5A1.6 1.6 0 0 1 853.35 136.5" fill="none" stroke="#777" stroke-width="0.65"/>
<path d="M835 160.3H844M837.9 160.3A1.6 1.6 0 0 1 841.1 160.3" fill="none" stroke="#777" stroke-width="0.65"/>
<rect x="102.5" y="129" width="7" height="7" fill="#fff" stroke="#333" stroke-width="0.7"/>
<path d="M103.6 130.1L108.4 134.9M108.4 130.1L103.6 134.9" fill="none" stroke="#333" stroke-width="0.6"/>
<rect x="792.25" y="156" width="7" height="7" fill="#fff" stroke="#333" stroke-width="0.7"/>
<path d="M793.35 157.1L798.15 161.9M798.15 157.1L793.35 161.9" fill="none" stroke="#333" stroke-width="0.6"/>
<rect x="505" y="427.7" width="7.3" height="7.3" rx="0.8" fill="#fff" stroke="#e8141a" stroke-width="1.7"/>
<path d="M1062.5 474.5L1137.5 479.5" fill="none" stroke="#444" stroke-width="0.8"/>
<rect x="1082.8" y="474.4" width="3.4" height="3.4" fill="#fff" stroke="#1c1c1c" stroke-width="0.8"/>
<rect x="1105.8" y="475.9" width="3.4" height="3.4" fill="#fff" stroke="#1c1c1c" stroke-width="0.8"/>
<rect x="1129.05" y="477.4" width="3.4" height="3.4" fill="#fff" stroke="#1c1c1c" stroke-width="0.8"/>
<path d="M57.5 502.5 L60.54 501.04 L64.36 499.21 L68.85 497.05 L73.89 494.63 L79.36 492 L85.16 489.22 L91.15 486.34 L97.22 483.43 L103.26 480.53 L109.15 477.7 L114.77 475.01 L120 472.5 L124.96 470.11 L129.84 467.74 L134.67 465.39 L139.44 463.06 L144.19 460.74 L148.91 458.44 L153.62 456.15 L158.33 453.89 L163.07 451.64 L167.83 449.41 L172.64 447.2 L177.5 445 L182.44 442.8 L187.47 440.59 L192.56 438.37 L197.69 436.16 L202.83 433.96 L207.97 431.79 L213.08 429.67 L218.15 427.59 L223.14 425.57 L228.05 423.63 L232.84 421.77 L237.5 420 L241.95 418.34 L246.15 416.79 L250.18 415.33 L254.07 413.94 L257.9 412.62 L261.72 411.34 L265.58 410.09 L269.54 408.86 L273.65 407.63 L277.98 406.38 L282.58 405.11 L287.5 403.79 L292.89 402.4 L298.76 400.96 L305.01 399.49 L311.53 397.99 L318.2 396.5 L324.92 395.03 L331.58 393.59 L338.06 392.21 L344.25 390.91 L350.04 389.7 L355.33 388.61 L360 387.65 L364.05 386.82 L367.59 386.13 L370.7 385.55 L373.45 385.06 L375.92 384.64 L378.17 384.28 L380.28 383.97 L382.32 383.68 L384.37 383.4 L386.49 383.11 L388.76 382.79 L391.25 382.44 L393.88 382.06 L396.51 381.68 L399.15 381.32 L401.79 380.96 L404.43 380.61 L407.08 380.27 L409.73 379.94 L412.38 379.62 L415.03 379.31 L417.69 379 L420.34 378.71 L423 378.43 L425.66 378.15 L428.32 377.89 L430.99 377.63 L433.66 377.38 L436.33 377.14 L439 376.92 L441.67 376.7 L444.34 376.49 L447.01 376.29 L449.68 376.09 L452.34 375.91 L455 375.74 L457.65 375.58 L460.3 375.43 L462.95 375.28 L465.59 375.15 L468.23 375.03 L470.88 374.91 L473.52 374.81 L476.16 374.71 L478.8 374.62 L481.45 374.54 L484.1 374.47 L486.75 374.41 L489.41 374.35 L492.08 374.31 L494.75 374.27 L497.43 374.25 L500.1 374.23 L502.78 374.22 L505.46 374.22 L508.13 374.23 L510.8 374.24 L513.46 374.26 L516.11 374.29 L518.75 374.32 L521.38 374.37 L524 374.42 L526.62 374.48 L529.22 374.54 L531.82 374.62 L534.42 374.7 L537.02 374.79 L539.61 374.88 L542.21 374.98 L544.8 375.09 L547.4 375.2 L550 375.32 L552.6 375.44 L555.19 375.57 L557.78 375.7 L560.37 375.84 L562.96 375.99 L565.55 376.14 L568.14 376.3 L570.74 376.47 L573.35 376.63 L575.97 376.81 L578.6 376.98 L581.25 377.16 L583.92 377.35 L586.61 377.54 L589.32 377.74 L592.04 377.95 L594.77 378.16 L597.5 378.38 L600.23 378.6 L602.96 378.82 L605.68 379.04 L608.39 379.26 L611.08 379.48 L613.75 379.7 L616.35 379.91 L618.87 380.13 L621.33 380.34 L623.75 380.55 L626.16 380.76 L628.59 380.98 L631.07 381.2 L633.61 381.42 L636.25 381.65 L639.01 381.88 L641.92 382.13 L645 382.38 L647.84 382.61 L650.15 382.81 L652.13 382.99 L654 383.15 L655.96 383.33 L658.23 383.52 L661.02 383.75 L664.53 384.02 L668.97 384.35 L674.56 384.75 L681.5 385.24 L690 385.83 L700.82 386.57 L714.21 387.47 L729.62 388.5 L746.52 389.63 L764.35 390.82 L782.56 392.03 L800.62 393.23 L817.98 394.38 L834.09 395.45 L848.41 396.4 L860.4 397.19 L869.5 397.8 L869 405.38 L859.89 404.78 L847.91 403.98 L833.59 403.03 L817.48 401.96 L800.12 400.81 L782.06 399.61 L763.84 398.4 L746.01 397.22 L729.12 396.09 L713.7 395.05 L700.31 394.15 L689.48 393.41 L680.97 392.82 L674.02 392.33 L668.42 391.93 L663.95 391.6 L660.42 391.32 L657.61 391.1 L655.31 390.9 L653.32 390.72 L651.45 390.56 L649.48 390.38 L647.2 390.18 L644.38 389.95 L641.29 389.7 L638.37 389.46 L635.6 389.22 L632.95 388.99 L630.4 388.77 L627.92 388.55 L625.49 388.33 L623.08 388.12 L620.67 387.91 L618.22 387.7 L615.72 387.49 L613.13 387.27 L610.46 387.05 L607.77 386.83 L605.07 386.61 L602.35 386.39 L599.63 386.17 L596.9 385.95 L594.17 385.74 L591.46 385.53 L588.75 385.32 L586.05 385.12 L583.38 384.93 L580.73 384.74 L578.09 384.57 L575.47 384.39 L572.86 384.22 L570.26 384.05 L567.67 383.89 L565.09 383.73 L562.52 383.58 L559.95 383.43 L557.38 383.29 L554.81 383.16 L552.23 383.03 L549.65 382.91 L547.07 382.79 L544.48 382.68 L541.9 382.58 L539.33 382.48 L536.75 382.38 L534.17 382.3 L531.6 382.22 L529.02 382.14 L526.43 382.08 L523.84 382.02 L521.25 381.97 L518.64 381.92 L516.02 381.89 L513.39 381.86 L510.75 381.84 L508.1 381.83 L505.45 381.82 L502.8 381.82 L500.14 381.83 L497.49 381.85 L494.84 381.87 L492.19 381.91 L489.55 381.95 L486.92 382.01 L484.29 382.07 L481.66 382.14 L479.04 382.22 L476.42 382.3 L473.81 382.4 L471.19 382.5 L468.58 382.62 L465.96 382.74 L463.34 382.87 L460.73 383.01 L458.1 383.16 L455.48 383.33 L452.85 383.5 L450.21 383.68 L447.57 383.86 L444.93 384.06 L442.28 384.27 L439.64 384.49 L436.99 384.72 L434.35 384.95 L431.7 385.2 L429.06 385.45 L426.43 385.71 L423.79 385.98 L421.17 386.27 L418.54 386.56 L415.91 386.86 L413.28 387.17 L410.66 387.49 L408.03 387.81 L405.41 388.15 L402.79 388.5 L400.18 388.85 L397.56 389.21 L394.95 389.58 L392.33 389.96 L389.82 390.32 L387.53 390.64 L385.4 390.93 L383.37 391.21 L381.38 391.49 L379.33 391.79 L377.15 392.14 L374.75 392.54 L372.07 393.02 L369.02 393.59 L365.53 394.28 L361.52 395.09 L356.87 396.05 L351.59 397.14 L345.81 398.35 L339.63 399.65 L333.17 401.02 L326.54 402.45 L319.85 403.92 L313.21 405.41 L306.73 406.89 L300.53 408.35 L294.73 409.77 L289.43 411.14 L284.58 412.44 L280.05 413.7 L275.79 414.92 L271.75 416.13 L267.88 417.34 L264.09 418.56 L260.35 419.81 L256.59 421.11 L252.75 422.48 L248.77 423.92 L244.59 425.47 L240.18 427.11 L235.57 428.86 L230.83 430.7 L225.97 432.63 L221.01 434.63 L215.98 436.69 L210.9 438.8 L205.8 440.96 L200.68 443.14 L195.58 445.34 L190.52 447.55 L185.52 449.75 L180.61 451.94 L175.79 454.11 L171.03 456.3 L166.31 458.51 L161.61 460.75 L156.92 463 L152.23 465.27 L147.52 467.57 L142.78 469.88 L138 472.22 L133.17 474.58 L128.27 476.96 L123.29 479.35 L118.05 481.86 L112.44 484.55 L106.55 487.38 L100.51 490.28 L94.44 493.19 L88.45 496.07 L82.65 498.85 L77.18 501.48 L72.14 503.9 L67.65 506.06 L63.83 507.89 L60.79 509.35Z" fill="#b0b0b0" stroke="none"/>
<path d="M690 385.83 L700.82 386.57 L714.21 387.47 L729.62 388.5 L746.52 389.63 L764.35 390.82 L782.56 392.03 L800.62 393.23 L817.98 394.38 L834.09 395.45 L848.41 396.4 L860.4 397.19 L869.5 397.8 L869 405.38 L859.89 404.78 L847.91 403.98 L833.59 403.03 L817.48 401.96 L800.12 400.81 L782.06 399.61 L763.84 398.4 L746.01 397.22 L729.12 396.09 L713.7 395.05 L700.31 394.15Z" fill="#adadad" stroke="none"/>
<path d="M57.5 502.5 L60.54 501.04 L64.36 499.21 L68.85 497.05 L73.89 494.63 L79.36 492 L85.16 489.22 L91.15 486.34 L97.22 483.43 L103.26 480.53 L109.15 477.7 L114.77 475.01 L120 472.5 L124.96 470.11 L129.84 467.74 L134.67 465.39 L139.44 463.06 L144.19 460.74 L148.91 458.44 L153.62 456.15 L158.33 453.89 L163.07 451.64 L167.83 449.41 L172.64 447.2 L177.5 445 L182.44 442.8 L187.47 440.59 L192.56 438.37 L197.69 436.16 L202.83 433.96 L207.97 431.79 L213.08 429.67 L218.15 427.59 L223.14 425.57 L228.05 423.63 L232.84 421.77 L237.5 420 L241.95 418.34 L246.15 416.79 L250.18 415.33 L254.07 413.94 L257.9 412.62 L261.72 411.34 L265.58 410.09 L269.54 408.86 L273.65 407.63 L277.98 406.38 L282.58 405.11 L287.5 403.79 L292.89 402.4 L298.76 400.96 L305.01 399.49 L311.53 397.99 L318.2 396.5 L324.92 395.03 L331.58 393.59 L338.06 392.21 L344.25 390.91 L350.04 389.7 L355.33 388.61 L360 387.65 L364.05 386.82 L367.59 386.13 L370.7 385.55 L373.45 385.06 L375.92 384.64 L378.17 384.28 L380.28 383.97 L382.32 383.68 L384.37 383.4 L386.49 383.11 L388.76 382.79 L391.25 382.44 L393.88 382.06 L396.51 381.68 L399.15 381.32 L401.79 380.96 L404.43 380.61 L407.08 380.27 L409.73 379.94 L412.38 379.62 L415.03 379.31 L417.69 379 L420.34 378.71 L423 378.43 L425.66 378.15 L428.32 377.89 L430.99 377.63 L433.66 377.38 L436.33 377.14 L439 376.92 L441.67 376.7 L444.34 376.49 L447.01 376.29 L449.68 376.09 L452.34 375.91 L455 375.74 L457.65 375.58 L460.3 375.43 L462.95 375.28 L465.59 375.15 L468.23 375.03 L470.88 374.91 L473.52 374.81 L476.16 374.71 L478.8 374.62 L481.45 374.54 L484.1 374.47 L486.75 374.41 L489.41 374.35 L492.08 374.31 L494.75 374.27 L497.43 374.25 L500.1 374.23 L502.78 374.22 L505.46 374.22 L508.13 374.23 L510.8 374.24 L513.46 374.26 L516.11 374.29 L518.75 374.32 L521.38 374.37 L524 374.42 L526.62 374.48 L529.22 374.54 L531.82 374.62 L534.42 374.7 L537.02 374.79 L539.61 374.88 L542.21 374.98 L544.8 375.09 L547.4 375.2 L550 375.32 L552.6 375.44 L555.19 375.57 L557.78 375.7 L560.37 375.84 L562.96 375.99 L565.55 376.14 L568.14 376.3 L570.74 376.47 L573.35 376.63 L575.97 376.81 L578.6 376.98 L581.25 377.16 L583.92 377.35 L586.61 377.54 L589.32 377.74 L592.04 377.95 L594.77 378.16 L597.5 378.38 L600.23 378.6 L602.96 378.82 L605.68 379.04 L608.39 379.26 L611.08 379.48 L613.75 379.7 L616.35 379.91 L618.87 380.13 L621.33 380.34 L623.75 380.55 L626.16 380.76 L628.59 380.98 L631.07 381.2 L633.61 381.42 L636.25 381.65 L639.01 381.88 L641.92 382.13 L645 382.38 L647.84 382.61 L650.15 382.81 L652.13 382.99 L654 383.15 L655.96 383.33 L658.23 383.52 L661.02 383.75 L664.53 384.02 L668.97 384.35 L674.56 384.75 L681.5 385.24 L690 385.83 L700.82 386.57 L714.21 387.47 L729.62 388.5 L746.52 389.63 L764.35 390.82 L782.56 392.03 L800.62 393.23 L817.98 394.38 L834.09 395.45 L848.41 396.4 L860.4 397.19 L869.5 397.8" fill="none" stroke="#1a1a1a" stroke-width="1"/>
<path d="M60.79 509.35 L63.83 507.89 L67.65 506.06 L72.14 503.9 L77.18 501.48 L82.65 498.85 L88.45 496.07 L94.44 493.19 L100.51 490.28 L106.55 487.38 L112.44 484.55 L118.05 481.86 L123.29 479.35 L128.27 476.96 L133.17 474.58 L138 472.22 L142.78 469.88 L147.52 467.57 L152.23 465.27 L156.92 463 L161.61 460.75 L166.31 458.51 L171.03 456.3 L175.79 454.11 L180.61 451.94 L185.52 449.75 L190.52 447.55 L195.58 445.34 L200.68 443.14 L205.8 440.96 L210.9 438.8 L215.98 436.69 L221.01 434.63 L225.97 432.63 L230.83 430.7 L235.57 428.86 L240.18 427.11 L244.59 425.47 L248.77 423.92 L252.75 422.48 L256.59 421.11 L260.35 419.81 L264.09 418.56 L267.88 417.34 L271.75 416.13 L275.79 414.92 L280.05 413.7 L284.58 412.44 L289.43 411.14 L294.73 409.77 L300.53 408.35 L306.73 406.89 L313.21 405.41 L319.85 403.92 L326.54 402.45 L333.17 401.02 L339.63 399.65 L345.81 398.35 L351.59 397.14 L356.87 396.05 L361.52 395.09 L365.53 394.28 L369.02 393.59 L372.07 393.02 L374.75 392.54 L377.15 392.14 L379.33 391.79 L381.38 391.49 L383.37 391.21 L385.4 390.93 L387.53 390.64 L389.82 390.32 L392.33 389.96 L394.95 389.58 L397.56 389.21 L400.18 388.85 L402.79 388.5 L405.41 388.15 L408.03 387.81 L410.66 387.49 L413.28 387.17 L415.91 386.86 L418.54 386.56 L421.17 386.27 L423.79 385.98 L426.43 385.71 L429.06 385.45 L431.7 385.2 L434.35 384.95 L436.99 384.72 L439.64 384.49 L442.28 384.27 L444.93 384.06 L447.57 383.86 L450.21 383.68 L452.85 383.5 L455.48 383.33 L458.1 383.16 L460.73 383.01 L463.34 382.87 L465.96 382.74 L468.58 382.62 L471.19 382.5 L473.81 382.4 L476.42 382.3 L479.04 382.22 L481.66 382.14 L484.29 382.07 L486.92 382.01 L489.55 381.95 L492.19 381.91 L494.84 381.87 L497.49 381.85 L500.14 381.83 L502.8 381.82 L505.45 381.82 L508.1 381.83 L510.75 381.84 L513.39 381.86 L516.02 381.89 L518.64 381.92 L521.25 381.97 L523.84 382.02 L526.43 382.08 L529.02 382.14 L531.6 382.22 L534.17 382.3 L536.75 382.38 L539.33 382.48 L541.9 382.58 L544.48 382.68 L547.07 382.79 L549.65 382.91 L552.23 383.03 L554.81 383.16 L557.38 383.29 L559.95 383.43 L562.52 383.58 L565.09 383.73 L567.67 383.89 L570.26 384.05 L572.86 384.22 L575.47 384.39 L578.09 384.57 L580.73 384.74 L583.38 384.93 L586.05 385.12 L588.75 385.32 L591.46 385.53 L594.17 385.74 L596.9 385.95 L599.63 386.17 L602.35 386.39 L605.07 386.61 L607.77 386.83 L610.46 387.05 L613.13 387.27 L615.72 387.49 L618.22 387.7 L620.67 387.91 L623.08 388.12 L625.49 388.33 L627.92 388.55 L630.4 388.77 L632.95 388.99 L635.6 389.22 L638.37 389.46 L641.29 389.7 L644.38 389.95 L647.2 390.18 L649.48 390.38 L651.45 390.56 L653.32 390.72 L655.31 390.9 L657.61 391.1 L660.42 391.32 L663.95 391.6 L668.42 391.93 L674.02 392.33 L680.97 392.82 L689.48 393.41 L700.31 394.15 L713.7 395.05 L729.12 396.09 L746.01 397.22 L763.84 398.4 L782.06 399.61 L800.12 400.81 L817.48 401.96 L833.59 403.03 L847.91 403.98 L859.89 404.78 L869 405.38" fill="none" stroke="#333" stroke-width="0.6"/>
<path d="M59.58 506.83 L62.61 505.37 L66.44 503.53 L70.93 501.38 L75.97 498.96 L81.44 496.33 L87.23 493.55 L93.23 490.67 L99.3 487.75 L105.34 484.85 L111.23 482.03 L116.84 479.34 L122.08 476.83 L127.05 474.43 L131.94 472.06 L136.77 469.7 L141.55 467.37 L146.29 465.05 L151 462.75 L155.7 460.48 L160.4 458.22 L165.11 455.98 L169.85 453.76 L174.63 451.56 L179.46 449.38 L184.39 447.19 L189.4 444.98 L194.47 442.77 L199.58 440.57 L204.7 438.38 L209.82 436.22 L214.91 434.1 L219.96 432.04 L224.93 430.03 L229.8 428.1 L234.56 426.25 L239.19 424.49 L243.62 422.84 L247.8 421.3 L251.8 419.84 L255.66 418.47 L259.45 417.16 L263.22 415.9 L267.03 414.67 L270.94 413.45 L275 412.23 L279.29 411 L283.84 409.74 L288.72 408.43 L294.05 407.06 L299.88 405.63 L306.1 404.16 L312.59 402.68 L319.24 401.19 L325.94 399.72 L332.58 398.28 L339.05 396.91 L345.23 395.61 L351.02 394.4 L356.3 393.31 L360.96 392.35 L364.99 391.53 L368.5 390.84 L371.57 390.27 L374.28 389.78 L376.69 389.38 L378.9 389.03 L380.97 388.72 L382.99 388.43 L385.02 388.15 L387.14 387.86 L389.43 387.55 L391.93 387.19 L394.56 386.81 L397.18 386.44 L399.8 386.08 L402.42 385.72 L405.05 385.37 L407.68 385.04 L410.32 384.71 L412.95 384.39 L415.59 384.08 L418.22 383.77 L420.86 383.48 L423.5 383.2 L426.14 382.93 L428.79 382.66 L431.44 382.41 L434.09 382.16 L436.75 381.93 L439.4 381.7 L442.06 381.48 L444.71 381.27 L447.36 381.07 L450.01 380.88 L452.66 380.7 L455.3 380.53 L457.94 380.37 L460.57 380.22 L463.2 380.08 L465.83 379.94 L468.45 379.82 L471.07 379.71 L473.7 379.6 L476.32 379.51 L478.95 379.42 L481.58 379.34 L484.22 379.27 L486.86 379.21 L489.5 379.15 L492.15 379.11 L494.81 379.07 L497.47 379.05 L500.13 379.03 L502.79 379.02 L505.45 379.02 L508.11 379.03 L510.77 379.04 L513.41 379.06 L516.05 379.09 L518.68 379.12 L521.3 379.17 L523.9 379.22 L526.5 379.28 L529.09 379.34 L531.68 379.42 L534.26 379.5 L536.85 379.59 L539.43 379.68 L542.01 379.78 L544.6 379.89 L547.19 380 L549.78 380.11 L552.37 380.23 L554.95 380.36 L557.53 380.5 L560.1 380.64 L562.68 380.78 L565.26 380.94 L567.84 381.09 L570.44 381.26 L573.04 381.42 L575.65 381.6 L578.28 381.77 L580.92 381.95 L583.58 382.14 L586.26 382.33 L588.96 382.53 L591.67 382.74 L594.39 382.95 L597.12 383.16 L599.85 383.38 L602.58 383.6 L605.29 383.82 L608 384.04 L610.69 384.26 L613.36 384.48 L615.95 384.7 L618.46 384.91 L620.91 385.12 L623.33 385.33 L625.74 385.54 L628.17 385.76 L630.65 385.98 L633.19 386.2 L635.84 386.43 L638.61 386.67 L641.52 386.91 L644.61 387.16 L647.44 387.39 L649.73 387.59 L651.7 387.77 L653.57 387.94 L655.55 388.11 L657.84 388.31 L660.64 388.53 L664.17 388.81 L668.62 389.14 L674.22 389.54 L681.16 390.03 L689.67 390.62 L700.5 391.36 L713.89 392.26 L729.3 393.29 L746.2 394.42 L764.03 395.61 L782.24 396.82 L800.3 398.02 L817.66 399.17 L833.78 400.24 L848.1 401.19 L860.08 401.98 L869.18 402.59" fill="none" stroke="#3c3c3c" stroke-width="0.8" stroke-dasharray="5.3 3.4"/>
<path d="M869.5 397.6L869.2 404.8M811.8 393.6L811.5 401" fill="none" stroke="#222" stroke-width="0.8"/>
<path d="M57.5 238.3 L59.32 237.49 L61.6 236.46 L64.29 235.26 L67.3 233.91 L70.57 232.44 L74.04 230.89 L77.62 229.28 L81.27 227.66 L84.89 226.05 L88.44 224.48 L91.83 222.99 L95 221.6 L98.14 220.24 L101.43 218.83 L104.83 217.38 L108.27 215.92 L111.69 214.47 L115.04 213.06 L118.27 211.7 L121.3 210.43 L124.09 209.26 L126.57 208.21 L128.7 207.32 L130.4 206.6 L138.9 225.1 L141.65 224.15 L144.98 222.98 L148.83 221.62 L153.15 220.09 L157.87 218.42 L162.94 216.65 L168.31 214.79 L173.92 212.87 L179.71 210.93 L185.62 208.98 L191.6 207.06 L197.6 205.2 L203.8 203.31 L210.38 201.33 L217.27 199.26 L224.42 197.15 L231.75 195 L239.19 192.85 L246.68 190.72 L254.15 188.64 L261.53 186.63 L268.76 184.71 L275.78 182.9 L282.5 181.24 L288.97 179.71 L295.27 178.27 L301.44 176.91 L307.49 175.63 L313.46 174.42 L319.37 173.27 L325.24 172.18 L331.11 171.13 L336.99 170.12 L342.92 169.15 L348.91 168.2 L355 167.27 L361.16 166.36 L367.36 165.49 L373.57 164.66 L379.81 163.87 L386.07 163.12 L392.34 162.41 L398.62 161.74 L404.91 161.12 L411.19 160.53 L417.47 159.98 L423.74 159.47 L430 159 L436.25 158.57 L442.5 158.19 L448.75 157.85 L455 157.56 L461.25 157.3 L467.5 157.08 L473.75 156.9 L480 156.75 L486.25 156.64 L492.5 156.56 L498.75 156.5 L505 156.47 L511.14 156.47 L517.09 156.49 L522.93 156.54 L528.7 156.62 L534.48 156.73 L540.31 156.88 L546.27 157.06 L552.41 157.28 L558.79 157.55 L565.47 157.85 L572.52 158.2 L580 158.6 L587.64 159.05 L595.23 159.54 L602.85 160.07 L610.62 160.64 L618.63 161.25 L626.98 161.9 L635.78 162.6 L645.13 163.33 L655.12 164.1 L665.86 164.9 L677.46 165.74 L690 166.62 L704.32 167.6 L720.84 168.71 L739.03 169.92 L758.39 171.21 L778.39 172.53 L798.52 173.86 L818.28 175.16 L837.14 176.4 L854.58 177.55 L870.1 178.57 L883.18 179.43 L893.3 180.1" fill="none" stroke="#222" stroke-width="0.7"/>
<path d="M56.89 236.93 L58.71 236.12 L60.99 235.09 L63.67 233.89 L66.69 232.54 L69.96 231.07 L73.42 229.52 L77.01 227.91 L80.66 226.29 L84.29 224.68 L87.83 223.11 L91.23 221.61 L94.4 220.22 L97.54 218.87 L100.84 217.45 L104.24 216 L107.68 214.54 L111.11 213.09 L114.46 211.67 L117.68 210.32 L120.72 209.04 L123.51 207.87 L125.99 206.83 L128.11 205.94 L129.82 205.22 L131.8 204.4 L140.2 222.5 L144.48 221.57 L148.33 220.21 L152.65 218.68 L157.37 217.01 L162.45 215.23 L167.82 213.37 L173.44 211.45 L179.23 209.5 L185.16 207.56 L191.15 205.63 L197.16 203.77 L203.36 201.88 L209.95 199.89 L216.85 197.82 L223.99 195.71 L231.33 193.56 L238.77 191.41 L246.27 189.28 L253.75 187.19 L261.14 185.18 L268.39 183.25 L275.41 181.45 L282.15 179.79 L288.63 178.25 L294.94 176.81 L301.12 175.45 L307.19 174.16 L313.17 172.95 L319.09 171.8 L324.97 170.7 L330.85 169.66 L336.74 168.65 L342.68 167.67 L348.68 166.72 L354.78 165.78 L360.95 164.87 L367.15 164 L373.38 163.17 L379.63 162.38 L385.9 161.63 L392.18 160.92 L398.47 160.25 L404.76 159.62 L411.06 159.03 L417.34 158.48 L423.63 157.97 L429.89 157.5 L436.15 157.07 L442.41 156.69 L448.67 156.35 L454.93 156.06 L461.19 155.8 L467.45 155.58 L473.71 155.4 L479.97 155.25 L486.23 155.14 L492.48 155.06 L498.74 155 L505 154.97 L511.14 154.97 L517.1 154.99 L522.95 155.04 L528.73 155.12 L534.51 155.23 L540.35 155.38 L546.32 155.56 L552.47 155.78 L558.85 156.05 L565.55 156.35 L572.6 156.71 L580.08 157.11 L587.74 157.55 L595.33 158.04 L602.96 158.57 L610.73 159.14 L618.74 159.76 L627.1 160.41 L635.9 161.1 L645.24 161.83 L655.23 162.6 L665.97 163.41 L677.56 164.25 L690.1 165.13 L704.42 166.1 L720.94 167.21 L739.13 168.43 L758.48 169.71 L778.49 171.04 L798.62 172.37 L818.38 173.67 L837.24 174.91 L854.68 176.05 L870.2 177.07 L883.28 177.93 L893.4 178.6" fill="none" stroke="#222" stroke-width="0.7"/>
<path d="M56.89 236.93 L58.71 236.12 L60.99 235.09 L63.67 233.89 L66.69 232.54 L69.96 231.07 L73.42 229.52 L77.01 227.91 L80.66 226.29 L84.29 224.68 L87.83 223.11 L91.23 221.61 L94.4 220.22 L97.54 218.87 L100.84 217.45 L104.24 216 L107.68 214.54 L111.11 213.09 L114.46 211.67 L117.68 210.32 L120.72 209.04 L123.51 207.87 L125.99 206.83 L128.11 205.94 L129.82 205.22 L131.8 204.4 L140.2 222.5 L144.48 221.57 L148.33 220.21 L152.65 218.68 L157.37 217.01 L162.45 215.23 L167.82 213.37 L173.44 211.45 L179.23 209.5 L185.16 207.56 L191.15 205.63 L197.16 203.77 L203.36 201.88 L209.95 199.89 L216.85 197.82 L223.99 195.71 L231.33 193.56 L238.77 191.41 L246.27 189.28 L253.75 187.19 L261.14 185.18 L268.39 183.25 L275.41 181.45 L282.15 179.79 L288.63 178.25 L294.94 176.81 L301.12 175.45 L307.19 174.16 L313.17 172.95 L319.09 171.8 L324.97 170.7 L330.85 169.66 L336.74 168.65 L342.68 167.67 L348.68 166.72 L354.78 165.78 L360.95 164.87 L367.15 164 L373.38 163.17 L379.63 162.38 L385.9 161.63 L392.18 160.92 L398.47 160.25 L404.76 159.62 L411.06 159.03 L417.34 158.48 L423.63 157.97 L429.89 157.5 L436.15 157.07 L442.41 156.69 L448.67 156.35 L454.93 156.06 L461.19 155.8 L467.45 155.58 L473.71 155.4 L479.97 155.25 L486.23 155.14 L492.48 155.06 L498.74 155 L505 154.97 L511.14 154.97 L517.1 154.99 L522.95 155.04 L528.73 155.12 L534.51 155.23 L540.35 155.38 L546.32 155.56 L552.47 155.78 L558.85 156.05 L565.55 156.35 L572.6 156.71 L580.08 157.11 L587.74 157.55 L595.33 158.04 L602.96 158.57 L610.73 159.14 L618.74 159.76 L627.1 160.41 L635.9 161.1 L645.24 161.83 L655.23 162.6 L665.97 163.41 L677.56 164.25 L690.1 165.13 L704.42 166.1 L720.94 167.21 L739.13 168.43 L758.48 169.71 L778.49 171.04 L798.62 172.37 L818.38 173.67 L837.24 174.91 L854.68 176.05 L870.2 177.07 L883.28 177.93 L893.4 178.6 L895.1 178.6 L893.3 180.1 L883.18 179.43 L870.1 178.57 L854.58 177.55 L837.14 176.4 L818.28 175.16 L798.52 173.86 L778.39 172.53 L758.39 171.21 L739.03 169.92 L720.84 168.71 L704.32 167.6 L690 166.62 L677.46 165.74 L665.86 164.9 L655.12 164.1 L645.13 163.33 L635.78 162.6 L626.98 161.9 L618.63 161.25 L610.62 160.64 L602.85 160.07 L595.23 159.54 L587.64 159.05 L580 158.6 L572.52 158.2 L565.47 157.85 L558.79 157.55 L552.41 157.28 L546.27 157.06 L540.31 156.88 L534.48 156.73 L528.7 156.62 L522.93 156.54 L517.09 156.49 L511.14 156.47 L505 156.47 L498.75 156.5 L492.5 156.56 L486.25 156.64 L480 156.75 L473.75 156.9 L467.5 157.08 L461.25 157.3 L455 157.56 L448.75 157.85 L442.5 158.19 L436.25 158.57 L430 159 L423.74 159.47 L417.47 159.98 L411.19 160.53 L404.91 161.12 L398.62 161.74 L392.34 162.41 L386.07 163.12 L379.81 163.87 L373.57 164.66 L367.36 165.49 L361.16 166.36 L355 167.27 L348.91 168.2 L342.92 169.15 L336.99 170.12 L331.11 171.13 L325.24 172.18 L319.37 173.27 L313.46 174.42 L307.49 175.63 L301.44 176.91 L295.27 178.27 L288.97 179.71 L282.5 181.24 L275.78 182.9 L268.76 184.71 L261.53 186.63 L254.15 188.64 L246.68 190.72 L239.19 192.85 L231.75 195 L224.42 197.15 L217.27 199.26 L210.38 201.33 L203.8 203.31 L197.6 205.2 L191.6 207.06 L185.62 208.98 L179.71 210.93 L173.92 212.87 L168.31 214.79 L162.94 216.65 L157.87 218.42 L153.15 220.09 L148.83 221.62 L144.98 222.98 L141.65 224.15 L138.9 225.1 L130.4 206.6 L128.7 207.32 L126.57 208.21 L124.09 209.26 L121.3 210.43 L118.27 211.7 L115.04 213.06 L111.69 214.47 L108.27 215.92 L104.83 217.38 L101.43 218.83 L98.14 220.24 L95 221.6 L91.83 222.99 L88.44 224.48 L84.89 226.05 L81.27 227.66 L77.62 229.28 L74.04 230.89 L70.57 232.44 L67.3 233.91 L64.29 235.26 L61.6 236.46 L59.32 237.49 L57.5 238.3Z" fill="#fff" stroke="none" stroke-width="0"/>
<path d="M57.5 238.3 L59.32 237.49 L61.6 236.46 L64.29 235.26 L67.3 233.91 L70.57 232.44 L74.04 230.89 L77.62 229.28 L81.27 227.66 L84.89 226.05 L88.44 224.48 L91.83 222.99 L95 221.6 L98.14 220.24 L101.43 218.83 L104.83 217.38 L108.27 215.92 L111.69 214.47 L115.04 213.06 L118.27 211.7 L121.3 210.43 L124.09 209.26 L126.57 208.21 L128.7 207.32 L130.4 206.6 L138.9 225.1 L141.65 224.15 L144.98 222.98 L148.83 221.62 L153.15 220.09 L157.87 218.42 L162.94 216.65 L168.31 214.79 L173.92 212.87 L179.71 210.93 L185.62 208.98 L191.6 207.06 L197.6 205.2 L203.8 203.31 L210.38 201.33 L217.27 199.26 L224.42 197.15 L231.75 195 L239.19 192.85 L246.68 190.72 L254.15 188.64 L261.53 186.63 L268.76 184.71 L275.78 182.9 L282.5 181.24 L288.97 179.71 L295.27 178.27 L301.44 176.91 L307.49 175.63 L313.46 174.42 L319.37 173.27 L325.24 172.18 L331.11 171.13 L336.99 170.12 L342.92 169.15 L348.91 168.2 L355 167.27 L361.16 166.36 L367.36 165.49 L373.57 164.66 L379.81 163.87 L386.07 163.12 L392.34 162.41 L398.62 161.74 L404.91 161.12 L411.19 160.53 L417.47 159.98 L423.74 159.47 L430 159 L436.25 158.57 L442.5 158.19 L448.75 157.85 L455 157.56 L461.25 157.3 L467.5 157.08 L473.75 156.9 L480 156.75 L486.25 156.64 L492.5 156.56 L498.75 156.5 L505 156.47 L511.14 156.47 L517.09 156.49 L522.93 156.54 L528.7 156.62 L534.48 156.73 L540.31 156.88 L546.27 157.06 L552.41 157.28 L558.79 157.55 L565.47 157.85 L572.52 158.2 L580 158.6 L587.64 159.05 L595.23 159.54 L602.85 160.07 L610.62 160.64 L618.63 161.25 L626.98 161.9 L635.78 162.6 L645.13 163.33 L655.12 164.1 L665.86 164.9 L677.46 165.74 L690 166.62 L704.32 167.6 L720.84 168.71 L739.03 169.92 L758.39 171.21 L778.39 172.53 L798.52 173.86 L818.28 175.16 L837.14 176.4 L854.58 177.55 L870.1 178.57 L883.18 179.43 L893.3 180.1" fill="none" stroke="#222" stroke-width="0.7"/>
<path d="M56.89 236.93 L58.71 236.12 L60.99 235.09 L63.67 233.89 L66.69 232.54 L69.96 231.07 L73.42 229.52 L77.01 227.91 L80.66 226.29 L84.29 224.68 L87.83 223.11 L91.23 221.61 L94.4 220.22 L97.54 218.87 L100.84 217.45 L104.24 216 L107.68 214.54 L111.11 213.09 L114.46 211.67 L117.68 210.32 L120.72 209.04 L123.51 207.87 L125.99 206.83 L128.11 205.94 L129.82 205.22 L131.8 204.4 L140.2 222.5 L144.48 221.57 L148.33 220.21 L152.65 218.68 L157.37 217.01 L162.45 215.23 L167.82 213.37 L173.44 211.45 L179.23 209.5 L185.16 207.56 L191.15 205.63 L197.16 203.77 L203.36 201.88 L209.95 199.89 L216.85 197.82 L223.99 195.71 L231.33 193.56 L238.77 191.41 L246.27 189.28 L253.75 187.19 L261.14 185.18 L268.39 183.25 L275.41 181.45 L282.15 179.79 L288.63 178.25 L294.94 176.81 L301.12 175.45 L307.19 174.16 L313.17 172.95 L319.09 171.8 L324.97 170.7 L330.85 169.66 L336.74 168.65 L342.68 167.67 L348.68 166.72 L354.78 165.78 L360.95 164.87 L367.15 164 L373.38 163.17 L379.63 162.38 L385.9 161.63 L392.18 160.92 L398.47 160.25 L404.76 159.62 L411.06 159.03 L417.34 158.48 L423.63 157.97 L429.89 157.5 L436.15 157.07 L442.41 156.69 L448.67 156.35 L454.93 156.06 L461.19 155.8 L467.45 155.58 L473.71 155.4 L479.97 155.25 L486.23 155.14 L492.48 155.06 L498.74 155 L505 154.97 L511.14 154.97 L517.1 154.99 L522.95 155.04 L528.73 155.12 L534.51 155.23 L540.35 155.38 L546.32 155.56 L552.47 155.78 L558.85 156.05 L565.55 156.35 L572.6 156.71 L580.08 157.11 L587.74 157.55 L595.33 158.04 L602.96 158.57 L610.73 159.14 L618.74 159.76 L627.1 160.41 L635.9 161.1 L645.24 161.83 L655.23 162.6 L665.97 163.41 L677.56 164.25 L690.1 165.13 L704.42 166.1 L720.94 167.21 L739.13 168.43 L758.48 169.71 L778.49 171.04 L798.62 172.37 L818.38 173.67 L837.24 174.91 L854.68 176.05 L870.2 177.07 L883.28 177.93 L893.4 178.6 L895.1 178.6" fill="none" stroke="#222" stroke-width="0.7"/>
<path d="M895.1 178.6 L891.4 246.5 L892 246.39 L892.95 246.48 L893.98 246.58 L895.06 246.67 L896.2 246.73 L897.37 246.77 L898.57 246.77 L899.77 246.72 L900.97 246.61 L902.16 246.43 L903.41 246.18 L904.76 245.88 L906.17 245.53 L907.64 245.13 L909.14 244.7 L910.66 244.22 L912.2 243.71 L913.74 243.17 L915.27 242.6 L916.78 242.01 L918.25 241.4 L919.67 240.78 L921.08 240.1 L922.58 239.32 L924.13 238.46 L925.7 237.55 L927.27 236.6 L928.81 235.64 L930.3 234.7 L931.7 233.81 L932.99 232.97 L934.14 232.23 L935.15 231.59 L935.95 231.1 L936.56 231.07 L940.99 228 L945.55 225.11 L950.22 222.42 L955 219.92 L959.88 217.63 L964.85 215.55 L969.91 213.67 L975.04 212.01 L980.23 210.57 L985.48 209.35 L990.78 208.35 L996.12 207.58 L1001.48 207.02 L1006.86 206.7 L1012.25 206.6 L1017.64 206.73 L1023.02 207.08 L1028.38 207.66 L1033.71 208.47 L1039.01 209.5 L1044.25 210.75 L1049.44 212.22 L1054.56 213.91 L1059.6 215.81 L1064.57 217.92 L1069.43 220.24 L1074.2 222.76 L1078.86 225.47 L1083.39 228.39 L1087.8 231.49 L1092.08 234.77 L1096.22 238.23 L1100.2 241.86 L1104.03 245.65 L1107.7 249.61 L1111.2 253.71 L1114.52 257.96 L1117.66 262.34 L1120.61 266.85 L1123.37 271.48 L1125.94 276.23 L1128.3 281.07 L1130.45 286.01 L1132.4 291.04 L1134.13 296.15 L1135.65 301.32 L1136.95 306.55 L1138.03 311.84 L1138.88 317.16 L1139.51 322.52 L1139.91 327.89 L1140.09 333.28 L1140.04 338.67 L1139.77 344.06 L1139.26 349.43 L1138.54 354.77 L1137.58 360.07 L1136.41 365.34 L1135.02 370.55 L1133.4 375.69 L1130.5 386.2 L1128.3 397.2 L1126.9 410.2 L1124.5 440.2 L1123 472.6 L1121.1 472.4 L1122.6 440 L1125 410 L1126.4 397 L1128.6 386 L1131.2 375.9 L1131.22 375.89 L1132.85 370.81 L1134.27 365.67 L1135.46 360.47 L1136.44 355.22 L1137.19 349.94 L1137.72 344.64 L1138.02 339.31 L1138.1 333.98 L1137.95 328.65 L1137.58 323.33 L1136.98 318.03 L1136.16 312.76 L1135.12 307.53 L1133.86 302.35 L1132.38 297.22 L1130.68 292.17 L1128.77 287.19 L1126.66 282.29 L1124.34 277.49 L1121.81 272.79 L1119.1 268.2 L1116.19 263.73 L1113.09 259.39 L1109.81 255.18 L1106.36 251.12 L1102.74 247.2 L1098.96 243.44 L1095.02 239.84 L1090.94 236.41 L1086.71 233.16 L1082.35 230.09 L1077.86 227.21 L1073.26 224.52 L1068.54 222.03 L1063.73 219.73 L1058.82 217.65 L1053.83 215.77 L1048.76 214.1 L1043.63 212.65 L1038.44 211.42 L1033.2 210.41 L1027.93 209.62 L1022.63 209.06 L1017.3 208.72 L1011.97 208.6 L1006.64 208.71 L1001.32 209.04 L996.01 209.6 L990.74 210.39 L985.5 211.39 L980.31 212.62 L975.17 214.06 L970.11 215.72 L965.11 217.59 L960.2 219.67 L955.38 221.96 L950.67 224.45 L946.06 227.14 L941.57 230.01 L937 232.8 L936.21 233.29 L935.22 233.91 L934.07 234.65 L932.78 235.49 L931.37 236.39 L929.88 237.34 L928.32 238.3 L926.72 239.27 L925.12 240.2 L923.53 241.08 L921.98 241.89 L920.5 242.6 L919.04 243.24 L917.53 243.87 L915.99 244.47 L914.42 245.05 L912.85 245.6 L911.27 246.12 L909.71 246.61 L908.18 247.06 L906.68 247.47 L905.22 247.83 L903.83 248.14 L902.5 248.4 L901.21 248.59 L899.91 248.71 L898.61 248.77 L897.34 248.77 L896.11 248.73 L894.92 248.66 L893.8 248.57 L892.76 248.47 L891.8 248.38 L890.94 248.29 L890.21 248.23 L889.6 248.2 L893.3 180.1Z" fill="#fff" stroke="none" stroke-width="0"/>
<path d="M893.3 180.1 L889.6 248.2 L890.21 248.23 L890.94 248.29 L891.8 248.38 L892.76 248.47 L893.8 248.57 L894.92 248.66 L896.11 248.73 L897.34 248.77 L898.61 248.77 L899.91 248.71 L901.21 248.59 L902.5 248.4 L903.83 248.14 L905.22 247.83 L906.68 247.47 L908.18 247.06 L909.71 246.61 L911.27 246.12 L912.85 245.6 L914.42 245.05 L915.99 244.47 L917.53 243.87 L919.04 243.24 L920.5 242.6 L921.98 241.89 L923.53 241.08 L925.12 240.2 L926.72 239.27 L928.32 238.3 L929.88 237.34 L931.37 236.39 L932.78 235.49 L934.07 234.65 L935.22 233.91 L936.21 233.29 L937 232.8 L941.57 230.01 L946.06 227.14 L950.67 224.45 L955.38 221.96 L960.2 219.67 L965.11 217.59 L970.11 215.72 L975.17 214.06 L980.31 212.62 L985.5 211.39 L990.74 210.39 L996.01 209.6 L1001.32 209.04 L1006.64 208.71 L1011.97 208.6 L1017.3 208.72 L1022.63 209.06 L1027.93 209.62 L1033.2 210.41 L1038.44 211.42 L1043.63 212.65 L1048.76 214.1 L1053.83 215.77 L1058.82 217.65 L1063.73 219.73 L1068.54 222.03 L1073.26 224.52 L1077.86 227.21 L1082.35 230.09 L1086.71 233.16 L1090.94 236.41 L1095.02 239.84 L1098.96 243.44 L1102.74 247.2 L1106.36 251.12 L1109.81 255.18 L1113.09 259.39 L1116.19 263.73 L1119.1 268.2 L1121.81 272.79 L1124.34 277.49 L1126.66 282.29 L1128.77 287.19 L1130.68 292.17 L1132.38 297.22 L1133.86 302.35 L1135.12 307.53 L1136.16 312.76 L1136.98 318.03 L1137.58 323.33 L1137.95 328.65 L1138.1 333.98 L1138.02 339.31 L1137.72 344.64 L1137.19 349.94 L1136.44 355.22 L1135.46 360.47 L1134.27 365.67 L1132.85 370.81 L1131.22 375.89 L1131.2 375.9 L1128.6 386 L1126.4 397 L1125 410 L1122.6 440 L1121.1 472.4" fill="none" stroke="#1a1a1a" stroke-width="0.8"/>
<path d="M895.1 178.6 L891.4 246.5 L892 246.39 L892.95 246.48 L893.98 246.58 L895.06 246.67 L896.2 246.73 L897.37 246.77 L898.57 246.77 L899.77 246.72 L900.97 246.61 L902.16 246.43 L903.41 246.18 L904.76 245.88 L906.17 245.53 L907.64 245.13 L909.14 244.7 L910.66 244.22 L912.2 243.71 L913.74 243.17 L915.27 242.6 L916.78 242.01 L918.25 241.4 L919.67 240.78 L921.08 240.1 L922.58 239.32 L924.13 238.46 L925.7 237.55 L927.27 236.6 L928.81 235.64 L930.3 234.7 L931.7 233.81 L932.99 232.97 L934.14 232.23 L935.15 231.59 L935.95 231.1 L936.56 231.07 L940.99 228 L945.55 225.11 L950.22 222.42 L955 219.92 L959.88 217.63 L964.85 215.55 L969.91 213.67 L975.04 212.01 L980.23 210.57 L985.48 209.35 L990.78 208.35 L996.12 207.58 L1001.48 207.02 L1006.86 206.7 L1012.25 206.6 L1017.64 206.73 L1023.02 207.08 L1028.38 207.66 L1033.71 208.47 L1039.01 209.5 L1044.25 210.75 L1049.44 212.22 L1054.56 213.91 L1059.6 215.81 L1064.57 217.92 L1069.43 220.24 L1074.2 222.76 L1078.86 225.47 L1083.39 228.39 L1087.8 231.49 L1092.08 234.77 L1096.22 238.23 L1100.2 241.86 L1104.03 245.65 L1107.7 249.61 L1111.2 253.71 L1114.52 257.96 L1117.66 262.34 L1120.61 266.85 L1123.37 271.48 L1125.94 276.23 L1128.3 281.07 L1130.45 286.01 L1132.4 291.04 L1134.13 296.15 L1135.65 301.32 L1136.95 306.55 L1138.03 311.84 L1138.88 317.16 L1139.51 322.52 L1139.91 327.89 L1140.09 333.28 L1140.04 338.67 L1139.77 344.06 L1139.26 349.43 L1138.54 354.77 L1137.58 360.07 L1136.41 365.34 L1135.02 370.55 L1133.4 375.69 L1130.5 386.2 L1128.3 397.2 L1126.9 410.2 L1124.5 440.2 L1123 472.6" fill="none" stroke="#333" stroke-width="0.6"/>
<path d="M1083 470.6 L1083 461 L1082.48 457.82 L1081.25 454.85 L1079.3 452.3 L1076.75 450.35 L1073.78 449.12 L1070.6 448.7 L1068.46 448.89 L1062.5 450.7 L1053.95 455.91 L1049.31 457.42 L1044.62 458.76 L1039.87 459.91 L1035.09 460.88 L1030.28 461.68 L1025.43 462.28 L1020.57 462.71 L1015.7 462.94 L1010.82 463 L1005.94 462.86 L1001.07 462.54 L996.21 462.04 L991.38 461.35 L986.58 460.47 L981.82 459.42 L977.09 458.18 L972.42 456.77 L967.81 455.18 L963.26 453.41 L958.78 451.48 L954.38 449.37 L950.06 447.1 L945.83 444.66 L941.7 442.07 L937.66 439.32 L933.74 436.42 L929.93 433.37 L926.24 430.18 L922.67 426.85 L919.23 423.38 L915.92 419.79 L912.76 416.08 L909.74 412.25 L906.86 408.3 L904.14 404.25 L901.58 400.1 L899.17 395.85 L896.93 391.52 L894.85 387.1 L892.95 382.61 L897.34 380.1 L897.03 379.17 L896.68 378.07 L896.29 376.82 L895.85 375.45 L895.37 374 L894.86 372.47 L894.31 370.9 L893.73 369.31 L893.12 367.73 L892.48 366.17 L891.82 364.68 L891.15 363.22 L890.47 361.73 L889.75 360.2 L889.01 358.63 L888.23 357.04 L887.42 355.45 L886.56 353.85 L885.66 352.27 L884.72 350.7 L883.72 349.17 L882.67 347.68 L881.56 346.24 L880.39 344.86 L879.17 343.5 L877.89 342.16 L876.57 340.85 L875.2 339.56 L873.8 338.32 L872.37 337.11 L870.92 335.94 L869.46 334.82 L867.99 333.76 L866.52 332.75 L865.05 331.8 L863.48 330.88 L861.81 330.02 L860.07 329.22 L858.29 328.48 L856.52 327.78 L854.78 327.14 L853.1 326.55 L851.52 326.02 L850.07 325.54 L848.8 325.11 L847.74 324.74 L846.91 324.43 L847.6 328.2 L846.2 326.3 L847.07 326.63 L848.16 327 L849.44 327.43 L850.88 327.91 L852.45 328.45 L854.1 329.02 L855.81 329.65 L857.54 330.33 L859.26 331.05 L860.93 331.82 L862.52 332.64 L864 333.5 L865.42 334.42 L866.84 335.39 L868.27 336.43 L869.69 337.51 L871.1 338.65 L872.49 339.82 L873.85 341.04 L875.18 342.29 L876.46 343.56 L877.7 344.86 L878.88 346.17 L880 347.5 L881.06 348.87 L882.06 350.29 L883.02 351.77 L883.94 353.28 L884.81 354.82 L885.64 356.38 L886.44 357.94 L887.21 359.5 L887.94 361.05 L888.65 362.57 L889.34 364.06 L890 365.5 L890.64 366.95 L891.26 368.47 L891.86 370.02 L892.43 371.57 L892.97 373.12 L893.48 374.62 L893.95 376.07 L894.38 377.43 L894.78 378.67 L895.13 379.78 L895.44 380.73 L894.8 381.86 L896.67 386.27 L898.71 390.6 L900.91 394.86 L903.26 399.02 L905.78 403.1 L908.44 407.07 L911.26 410.95 L914.22 414.71 L917.32 418.36 L920.56 421.88 L923.93 425.28 L927.42 428.56 L931.04 431.69 L934.77 434.69 L938.62 437.54 L942.57 440.25 L946.62 442.8 L950.76 445.2 L954.99 447.44 L959.31 449.52 L963.7 451.43 L968.16 453.18 L972.68 454.75 L977.26 456.15 L981.88 457.38 L986.55 458.43 L991.26 459.3 L996 459.99 L1000.76 460.51 L1005.54 460.84 L1010.32 460.99 L1015.11 460.96 L1019.89 460.75 L1024.66 460.35 L1029.42 459.78 L1034.15 459.02 L1038.84 458.09 L1043.5 456.98 L1048.11 455.69 L1052.67 454.23 L1063 452.6 L1068.79 450.76 L1070.6 450.6 L1073.29 450.95 L1075.8 451.99 L1077.95 453.65 L1079.61 455.8 L1080.65 458.31 L1081.1 461 L1081.1 470.5Z" fill="#fff" stroke="none" stroke-width="0"/>
<path d="M1121.1 472.4 L1081.1 470.5 L1081.1 461 L1080.65 458.31 L1079.61 455.8 L1077.95 453.65 L1075.8 451.99 L1073.29 450.95 L1070.6 450.6 L1068.79 450.76 L1063 452.6 L1052.67 454.23 L1048.11 455.69 L1043.5 456.98 L1038.84 458.09 L1034.15 459.02 L1029.42 459.78 L1024.66 460.35 L1019.89 460.75 L1015.11 460.96 L1010.32 460.99 L1005.54 460.84 L1000.76 460.51 L996 459.99 L991.26 459.3 L986.55 458.43 L981.88 457.38 L977.26 456.15 L972.68 454.75 L968.16 453.18 L963.7 451.43 L959.31 449.52 L954.99 447.44 L950.76 445.2 L946.62 442.8 L942.57 440.25 L938.62 437.54 L934.77 434.69 L931.04 431.69 L927.42 428.56 L923.93 425.28 L920.56 421.88 L917.32 418.36 L914.22 414.71 L911.26 410.95 L908.44 407.07 L905.78 403.1 L903.26 399.02 L900.91 394.86 L898.71 390.6 L896.67 386.27 L894.8 381.86 L895.44 380.73 L895.13 379.78 L894.78 378.67 L894.38 377.43 L893.95 376.07 L893.48 374.62 L892.97 373.12 L892.43 371.57 L891.86 370.02 L891.26 368.47 L890.64 366.95 L890 365.5 L889.34 364.06 L888.65 362.57 L887.94 361.05 L887.21 359.5 L886.44 357.94 L885.64 356.38 L884.81 354.82 L883.94 353.28 L883.02 351.77 L882.06 350.29 L881.06 348.87 L880 347.5 L878.88 346.17 L877.7 344.86 L876.46 343.56 L875.18 342.29 L873.85 341.04 L872.49 339.82 L871.1 338.65 L869.69 337.51 L868.27 336.43 L866.84 335.39 L865.42 334.42 L864 333.5 L862.52 332.64 L860.93 331.82 L859.26 331.05 L857.54 330.33 L855.81 329.65 L854.1 329.02 L852.45 328.45 L850.88 327.91 L849.44 327.43 L848.16 327 L847.07 326.63 L846.2 326.3" fill="none" stroke="#1a1a1a" stroke-width="0.8"/>
<path d="M1083 470.6 L1083 461 L1082.48 457.82 L1081.25 454.85 L1079.3 452.3 L1076.75 450.35 L1073.78 449.12 L1070.6 448.7 L1068.46 448.89 L1062.5 450.7 L1053.95 455.91 L1049.31 457.42 L1044.62 458.76 L1039.87 459.91 L1035.09 460.88 L1030.28 461.68 L1025.43 462.28 L1020.57 462.71 L1015.7 462.94 L1010.82 463 L1005.94 462.86 L1001.07 462.54 L996.21 462.04 L991.38 461.35 L986.58 460.47 L981.82 459.42 L977.09 458.18 L972.42 456.77 L967.81 455.18 L963.26 453.41 L958.78 451.48 L954.38 449.37 L950.06 447.1 L945.83 444.66 L941.7 442.07 L937.66 439.32 L933.74 436.42 L929.93 433.37 L926.24 430.18 L922.67 426.85 L919.23 423.38 L915.92 419.79 L912.76 416.08 L909.74 412.25 L906.86 408.3 L904.14 404.25 L901.58 400.1 L899.17 395.85 L896.93 391.52 L894.85 387.1 L892.95 382.61 L897.34 380.1 L897.03 379.17 L896.68 378.07 L896.29 376.82 L895.85 375.45 L895.37 374 L894.86 372.47 L894.31 370.9 L893.73 369.31 L893.12 367.73 L892.48 366.17 L891.82 364.68 L891.15 363.22 L890.47 361.73 L889.75 360.2 L889.01 358.63 L888.23 357.04 L887.42 355.45 L886.56 353.85 L885.66 352.27 L884.72 350.7 L883.72 349.17 L882.67 347.68 L881.56 346.24 L880.39 344.86 L879.17 343.5 L877.89 342.16 L876.57 340.85 L875.2 339.56 L873.8 338.32 L872.37 337.11 L870.92 335.94 L869.46 334.82 L867.99 333.76 L866.52 332.75 L865.05 331.8 L863.48 330.88 L861.81 330.02 L860.07 329.22 L858.29 328.48 L856.52 327.78 L854.78 327.14 L853.1 326.55 L851.52 326.02 L850.07 325.54 L848.8 325.11 L847.74 324.74 L846.91 324.43 L847.6 328.2" fill="none" stroke="#333" stroke-width="0.6"/>
<path d="M846.2 326.3L842.7 396.3L844.5 396.4L848 328.4Z" fill="#fff" stroke="none" stroke-width="0"/>
<path d="M846.2 326.3L842.7 396.3M848 328.4L844.5 396.4" fill="none" stroke="#222" stroke-width="0.7"/>
<path d="M882.5 252.6 C885.83 252.47 896.08 252.97 902.5 251.8 C908.92 250.63 915.08 248.42 921 245.6 C926.92 242.78 935.17 236.68 938 234.9 L938.1 235.03 L941.68 232.48 L945.34 230.06 L949.1 227.77 L952.93 225.61 L956.83 223.59 L960.8 221.71 L964.84 219.97 L968.94 218.37 L973.09 216.93 L977.29 215.63 L981.53 214.47 L985.81 213.47 L990.12 212.63 L994.46 211.93 L998.82 211.39 L1003.2 211.01 L1007.59 210.77 L1011.99 210.7 L1016.38 210.78 L1020.77 211.02 L1025.15 211.41 L1029.51 211.96 L1033.85 212.66 L1038.16 213.51 L1042.44 214.52 L1046.68 215.67 L1050.88 216.98 L1055.03 218.44 L1059.12 220.04 L1063.16 221.78 L1067.13 223.67 L1071.03 225.69 L1074.86 227.85 L1078.6 230.15 L1082.27 232.58 L1085.84 235.13 L1089.33 237.82 L1092.71 240.62 L1096 243.54 L1099.18 246.58 L1102.25 249.72 L1105.2 252.98 L1108.04 256.33 L1110.76 259.79 L1113.36 263.33 L1115.82 266.97 L1118.16 270.69 L1120.36 274.5 L1122.43 278.38 L1124.36 282.33 L1126.15 286.34 L1127.79 290.42 L1129.29 294.55 L1130.64 298.73 L1131.85 302.96 L1132.9 307.23 L1133.8 311.53 L1134.55 315.86 L1135.14 320.22 L1135.58 324.59 L1135.86 328.98 L1135.99 333.37 L1135.96 337.77 L1135.78 342.16 L1135.44 346.54 L1134.95 350.91 L1134.3 355.26 L1133.5 359.58 L1132.55 363.87 L1131.44 368.13 L1130.19 372.34 L1128.78 376.51 L1127.23 380.62 L1125.54 384.67 L1123.7 388.67 L1121.72 392.59 L1119.61 396.45 L1117.36 400.22 L1114.97 403.92 L1112.46 407.52 L1109.82 411.04 L1107.06 414.46 L1104.18 417.78 L1101.18 420.99 L1098.07 424.1 L1094.86 427.1 L1091.54 429.98 L1088.12 432.74 L1084.6 435.38 L1080.99 437.89 L1077.3 440.27 L1073.52 442.52 L1069.67 444.63 L1065.74 446.61 L1061.75 448.45 L1057.69 450.14 L1053.58 451.69 L1049.41 453.09 L1045.2 454.35 L1040.94 455.45 L1036.65 456.41 L1032.33 457.21 L1027.98 457.85 L1023.62 458.35 L1019.23 458.68 L1014.84 458.87 L1010.44 458.89 L1006.05 458.76 L1001.66 458.48 L997.29 458.04 L992.94 457.44 L988.6 456.69 L984.3 455.79 L980.03 454.74 L975.81 453.54 L971.62 452.18 L967.49 450.68 L963.42 449.04 L959.4 447.25 L955.45 445.32 L951.57 443.25 L947.77 441.05 L944.05 438.71 L940.41 436.24 L936.86 433.64 L933.41 430.92 L930.05 428.08 L926.8 425.13 L923.66 422.06 L920.62 418.88 L917.7 415.59 L914.9 412.2 L912.22 408.72 L909.66 405.14 L907.24 401.48 L904.94 397.73 L902.78 393.9 L900.75 390 L898.87 386.03 L897.12 382  C896.67 379.08 894.63 371.37 892 365.5 C889.37 359.63 886.38 352.32 881.8 346.6 C877.22 340.88 871.05 335 864.5 331.2 C857.95 327.4 846.17 325.03 842.5 323.8" fill="none" stroke="#b8860b" stroke-width="1.7" stroke-linejoin="round"/>
<path d="M268.6 367.3A4.6 4.6 0 0 1 277.7 366L287.7 403.5L275 407.8Q272.4 408.3 272.3 405.5Z" fill="#fff" stroke="#444" stroke-width="0.7"/><path d="M271.6 367.6A1.9 1.9 0 0 1 275.3 367.1L284.2 401.7L276 404.4Q275 404.6 274.9 403.4Z" fill="url(#xh)" stroke="none" stroke-width="0"/><path d="M271.6 367.6A1.9 1.9 0 0 1 275.3 367.1L284.2 401.7L276 404.4Q275 404.6 274.9 403.4Z" fill="none" stroke="#555" stroke-width="0.6"/>
<path d="M329.8 351.4A4.4 4.4 0 0 1 338.3 349.6L353.2 387.1L341.5 390.4Q339.1 390.9 338.7 388.6Z" fill="#fff" stroke="#444" stroke-width="0.7"/><path d="M332.7 351.7A1.8 1.8 0 0 1 336.1 351L349.2 385.4L342.2 387.4Q341 387.6 340.7 386.4Z" fill="url(#xh)" stroke="none" stroke-width="0"/><path d="M332.7 351.7A1.8 1.8 0 0 1 336.1 351L349.2 385.4L342.2 387.4Q341 387.6 340.7 386.4Z" fill="none" stroke="#555" stroke-width="0.6"/>
<path d="M288.9 410.2L309.9 423.1L328.8 418.3L339.6 400.3L338.9 397Z" fill="#fff" stroke="none" stroke-width="0"/>
<path d="M287.9 404.2L338.9 391.5L340.8 397.3L289 410Z" fill="#ababab" stroke="none" stroke-width="0"/>
<path d="M287.7 403.6L338.9 390.9" fill="none" stroke="#111" stroke-width="1.6"/>
<path d="M288.8 409.9L341 396.7M288.3 408.4L340.5 395.2M288.8 409.9L309.9 423.1L328.8 418.3L339.6 400.3M305.6 405.7L309.9 423.1M324.1 401.5L328.8 418.3M287.7 403.6L289 410.5M338.9 390.9L340.8 397.5" fill="none" stroke="#333" stroke-width="0.65"/>
<g transform="translate(387.9 218.7) rotate(-7)" fill="none" stroke="#5b82e6"><rect x="-8.4" y="-8.4" width="16.8" height="16.8" stroke-width="0.8"/><rect x="-7.2" y="-7.2" width="14.4" height="14.4" stroke-width="0.4"/><circle cx="-1.6" cy="-5" r="1.1" stroke-width="0.8"/><path d="M-1.5 -3.8L-1.2 0.8L3 0.8L5 4.6L6.2 4.1M-1.4 -1.8L1.8 -1.8" stroke-width="1.1"/><path d="M-2.8 -1.2A4.2 4.2 0 1 0 3.2 3.2" stroke-width="1.1"/></g>
<g transform="translate(451.9 212) rotate(-4)" fill="none" stroke="#5b82e6"><rect x="-8.4" y="-8.4" width="16.8" height="16.8" stroke-width="0.8"/><rect x="-7.2" y="-7.2" width="14.4" height="14.4" stroke-width="0.4"/><circle cx="-1.6" cy="-5" r="1.1" stroke-width="0.8"/><path d="M-1.5 -3.8L-1.2 0.8L3 0.8L5 4.6L6.2 4.1M-1.4 -1.8L1.8 -1.8" stroke-width="1.1"/><path d="M-2.8 -1.2A4.2 4.2 0 1 0 3.2 3.2" stroke-width="1.1"/></g>
<circle cx="420.1" cy="220" r="1" fill="none" stroke="#444" stroke-width="0.5"/>
<g transform="translate(95.5 444.5) rotate(64.6)"><rect x="-21" y="-4.2" width="42" height="8.4" rx="4.2" fill="#fff" stroke="#c8c8c8" stroke-width="0.4"/><text transform="translate(0 2.4) scale(1.1920 1)" font-size="6.8" text-anchor="middle" fill="#222">CH400.00</text></g>
<g transform="translate(215 391) rotate(70.8)"><rect x="-21" y="-4.2" width="42" height="8.4" rx="4.2" fill="#fff" stroke="#c8c8c8" stroke-width="0.4"/><text transform="translate(0 2.4) scale(1.1920 1)" font-size="6.8" text-anchor="middle" fill="#222">CH410.03</text></g>
<g transform="translate(342.5 352.5) rotate(73)"><rect x="-21" y="-4.2" width="42" height="8.4" rx="4.2" fill="#fff" stroke="#c8c8c8" stroke-width="0.4"/><text transform="translate(0 2.4) scale(1.1920 1)" font-size="6.8" text-anchor="middle" fill="#222">CH420.00</text></g>
<g transform="translate(559.1 340.5) rotate(93.7)"><rect x="-21" y="-4.2" width="42" height="8.4" rx="4.2" fill="#fff" stroke="#c8c8c8" stroke-width="0.4"/><text transform="translate(0 2.4) scale(1.1920 1)" font-size="6.8" text-anchor="middle" fill="#222">CH436.32</text></g>
<g transform="translate(605.8 342.2) rotate(93.7)"><rect x="-21" y="-4.2" width="42" height="8.4" rx="4.2" fill="#fff" stroke="#c8c8c8" stroke-width="0.4"/><text transform="translate(0 2.4) scale(1.1920 1)" font-size="6.8" text-anchor="middle" fill="#222">CH440.00</text></g>
<g transform="translate(860.75 360) rotate(92.9)"><rect x="-21" y="-4.2" width="42" height="8.4" rx="4.2" fill="#fff" stroke="#c8c8c8" stroke-width="0.4"/><text transform="translate(0 2.4) scale(1.1920 1)" font-size="6.8" text-anchor="middle" fill="#222">CH460.00</text></g>
<g transform="translate(1115 377) rotate(90)"><rect x="-21" y="-4.2" width="42" height="8.4" rx="4.2" fill="#fff" stroke="#c8c8c8" stroke-width="0.4"/><text transform="translate(0 2.4) scale(1.1920 1)" font-size="6.8" text-anchor="middle" fill="#222">CH480.00</text></g>
<g transform="translate(1173.75 380.5) rotate(92.2)"><rect x="-21" y="-4.2" width="42" height="8.4" rx="4.2" fill="#fff" stroke="#c8c8c8" stroke-width="0.4"/><text transform="translate(0 2.4) scale(1.1920 1)" font-size="6.8" text-anchor="middle" fill="#222">CH484.58</text></g>
<g transform="translate(75 357.5) rotate(0)"><rect x="-5.75" y="-4.25" width="11.5" height="8.5" rx="0.8" fill="#fff"/><text transform="translate(0 2.59) scale(0.8592 1)" font-size="7.2" text-anchor="middle" fill="#222">3.5</text></g>
<g transform="translate(999 226) rotate(-20)"><rect x="-5.75" y="-4.25" width="11.5" height="8.5" rx="0.8" fill="#fff"/><text transform="translate(0 2.59) scale(0.8592 1)" font-size="7.2" text-anchor="middle" fill="#222">3.5</text></g>
<g transform="translate(1102 395.8) rotate(-20)"><rect x="-5.75" y="-4.25" width="11.5" height="8.5" rx="0.8" fill="#fff"/><text transform="translate(0 2.59) scale(0.8592 1)" font-size="7.2" text-anchor="middle" fill="#222">3.0</text></g>
<g transform="translate(244.5 412.5) rotate(-14)"><rect x="-4.75" y="-4.1" width="9.5" height="8.2" rx="0.8" fill="#fff"/><text transform="translate(0 2.59) scale(0.8175 1)" font-size="7.2" text-anchor="middle" fill="#222">B1</text></g>
<g transform="translate(438.4 94.3) rotate(-3.3)"><rect x="-32.25" y="-6.1" width="64.5" height="12.2" rx="0.8" fill="#fff"/><text transform="translate(0 2.88)" font-size="8" text-anchor="middle" fill="#222">Existing surf club</text></g>
<text transform="translate(223.7 90) rotate(-90)" font-size="8" text-anchor="middle" fill="#1c1c1c">Existing track</text>
<text transform="translate(176.5 207.3) rotate(-17) scale(0.8812 1)" font-size="7" text-anchor="middle" fill="#1c1c1c">ER2</text>
<text transform="translate(1144 341.7) rotate(90) scale(0.8812 1)" font-size="7" text-anchor="middle" fill="#1c1c1c">ER2</text>
<text transform="translate(942 165) rotate(3.1) scale(1.0094 1)" font-size="8" fill="#1c1c1c">Existing extent of vegetation</text>
<rect x="481.3" y="282.6" width="87.5" height="15" fill="#fff"/>
<text transform="translate(484.3 293.3) scale(1.0510 1)" font-size="9" fill="#1c1c1c">Control Line - LK01</text>
<path d="M484.3 295.6H565.8" fill="none" stroke="#222" stroke-width="0.7"/>
<path d="M568.8 289.7H572V373.8" fill="none" stroke="#333" stroke-width="0.75"/>
<circle cx="572" cy="376.3" r="2.6" fill="none" stroke="#333" stroke-width="0.7"/>
</g>
<g id="north">
<circle cx="1267.8" cy="49.9" r="20" fill="#fff" stroke="#222" stroke-width="0.9"/>
<path d="M1248 49.4L1284.6 39.8L1268.3 50.6L1283.5 62.1Z" fill="#000"/>
<path d="M1276.5 47.2L1286 47.4L1276.5 54L1286 54.5" fill="none" stroke="#000" stroke-width="1.4" stroke-linejoin="round" stroke-linecap="round"/>
</g>
<g id="notes">
<text transform="translate(43.2 381) rotate(90) scale(0.9816 1)" font-size="9" text-anchor="middle" fill="#1c1c1c">Joins 2796-16</text>
<path d="M317 424.6V562H311.3" fill="none" stroke="#333" stroke-width="0.7" marker-start="url(#ar)"/>
<text transform="translate(210.8 565) scale(1.0761 1)" font-size="9" fill="#1c1c1c">Construct kerb ramp to</text>
<text transform="translate(210.8 576.3) scale(1.0158 1)" font-size="9" fill="#1c1c1c">NRLG std dwg R-04</text>
<rect x="354" y="555" width="79.8" height="15" fill="#fff"/>
<text transform="translate(355.5 565) scale(1.0716 1)" font-size="9" fill="#1c1c1c">Existing stay wire</text>
<path d="M519.5 496.3L437.5 562.5H433.8" fill="none" stroke="#333" stroke-width="0.7" marker-start="url(#ar)"/>
<path d="M511.3 437L552.5 562.5H557.5" fill="none" stroke="#333" stroke-width="0.7" marker-start="url(#ar)"/>
<path d="M576.75 531.8L589 552.6H564.5Z" fill="#ffee00" stroke="#111" stroke-width="0.9" stroke-linejoin="round"/>
<path d="M576.75 537.5V546.8M576.75 548.7V550.3" stroke="#111" stroke-width="0.9"/>
<text transform="translate(559.5 566.3) scale(0.8395 1)" font-size="9" fill="#1c1c1c">CAUTION</text>
<path d="M559.5 568.7H593.5" fill="none" stroke="#222" stroke-width="0.7"/>
<text transform="translate(559.5 577.5) scale(1.0352 1)" font-size="9" fill="#1c1c1c">Existing Survey Mark</text>
<text transform="translate(559.5 588.3) scale(0.9214 1)" font-size="9" fill="#1c1c1c">PM48727</text>
<text transform="translate(559.5 599.5) scale(1.0420 1)" font-size="9" fill="#1c1c1c">Do Not Disturb</text>
<path d="M809.3 449V562.5H803.8" fill="none" stroke="#333" stroke-width="0.7" marker-start="url(#ar)"/>
<text transform="translate(680 565.8) scale(1.0750 1)" font-size="9" fill="#1c1c1c">Construct infiltration garden.</text>
<text transform="translate(680 576.8) scale(0.9478 1)" font-size="9" fill="#1c1c1c">Minimum depth 300mm.</text>
<text transform="translate(680 588) scale(1.0667 1)" font-size="9" fill="#1c1c1c">Refer detail 2796-39</text>
<path d="M862.5 408V559.3H866.3" fill="none" stroke="#333" stroke-width="0.7" marker-start="url(#ar)"/>
<text transform="translate(870 562.5) scale(1.0986 1)" font-size="9" fill="#1c1c1c">Transition upright kerb to</text>
<text transform="translate(870 574.3) scale(1.0587 1)" font-size="9" fill="#1c1c1c">dish gutter and discharge</text>
<text transform="translate(870 585.5) scale(1.1036 1)" font-size="9" fill="#1c1c1c">to infiltration garden.</text>
<text transform="translate(870 596.8) scale(1.0729 1)" font-size="9" fill="#1c1c1c">Refer detail 2796-40</text>
<path d="M934.5 458L1018.8 558.8H1025" fill="none" stroke="#333" stroke-width="0.7" marker-start="url(#ar)"/>
<text transform="translate(1027.5 562) scale(1.0305 1)" font-size="9" fill="#1c1c1c">Shape 5m long overflow</text>
<text transform="translate(1027.5 573.3) scale(1.1243 1)" font-size="9" fill="#1c1c1c">weir into kerb at top</text>
<text transform="translate(1027.5 584.3) scale(1.1069 1)" font-size="9" fill="#1c1c1c">of infiltration garden</text>
<path d="M1113 478.8L1152.5 558.8H1157.5" fill="none" stroke="#333" stroke-width="0.7" marker-start="url(#ar)"/>
<text transform="translate(1160 562) scale(1.0798 1)" font-size="9" fill="#1c1c1c">Install gate</text>
<text transform="translate(672.5 627.3) scale(0.9770 1)" font-size="11.2" fill="#1c1c1c">Site Plan</text>
<path d="M672.5 630.2H716.5" fill="none" stroke="#222" stroke-width="0.8"/>
<text transform="translate(665.8 642.5) scale(1.0723 1)" font-size="8.2" fill="#1c1c1c">Scale 1:250 (A3)</text>
</g>
<g id="sheetlayout">
<path d="M36.3 634.9H417.5V841.6" fill="none" stroke="#777" stroke-width="1.1"/>
<clipPath id="slc"><rect x="37" y="635.5" width="380" height="206"/></clipPath><g clip-path="url(#slc)">
<path d="M107.7 758.4L236 748.9L294.6 741.5M50.8 704.6L72.9 757.4M107.7 758.4L103.5 737M121.4 727.8L121.4 757.4M132 723.5L134.1 756.4M150 719.4L150 754.2M159.4 717.3L159.4 753.2M166.8 716.2L166.8 752.6M181.6 715.2L181.6 751.5M196.5 713.5L197.6 750.4M213.3 712L214.4 749.3M222.8 711.5L223.5 748.8M234.9 710.5L237.9 748M197 731.7L213.8 730.4M214 728.5L235.7 726.6M220 731L235.7 729.6M283.4 726.6L304.3 718.4C305.5 723 308.5 729 306.6 735.5C305 741 299 748 294.6 752.2ZM304.3 718.4L315.5 744.5L340.1 742.2L340.6 746.7L308 749.4L294.6 752.2M397.6 660.9L420 657.9M397.6 677.3L420 674.6M109 722L122.5 703.5M118 704L236 703.8L296 700L311 693.5L330 684L347.6 675.8L366 674.5" fill="none" stroke="#333" stroke-width="0.55"/>
<path d="M139.5 721.95L140.9 755.96M145.5 721.28L146.9 755.51M243.1 710.55L244.5 748.19M251.3 709.65L252.7 747.58M259.6 708.73L261 746.96M267.8 707.83L269.2 746.34M276 706.93L277.4 745.73" fill="none" stroke="#3c3c3c" stroke-width="0.5" stroke-dasharray="4 2"/>
<path d="M113 635L117.2 704.6M105.6 769L236 756.3L315.5 744.5L412.5 731L405.8 683.3M347.6 675.8L351.3 739.3M72.9 757.4L84 784M117.5 790L123 812M315 705L347 690" fill="none" stroke="#4a4a4a" stroke-width="0.5" stroke-dasharray="15 2.5 3 2.5"/>
<path d="M105.07 731.03 L106.36 729.35 L107.7 727.8 L109.11 726.34 L110.6 724.93 L112.17 723.56 L113.8 722.22 L115.49 720.94 L117.23 719.7 L119.02 718.5 L120.85 717.35 L122.71 716.25 L124.6 715.2 L126.54 714.2 L128.55 713.25 L130.62 712.35 L132.74 711.49 L134.89 710.68 L137.06 709.92 L139.24 709.2 L141.41 708.52 L143.57 707.89 L145.7 707.3 L147.76 706.77 L149.73 706.3 L151.65 705.9 L153.56 705.54 L155.49 705.21 L157.49 704.92 L159.58 704.64 L161.81 704.37 L164.2 704.09 L166.8 703.8 L169.62 703.51 L172.62 703.24 L175.78 702.98 L179.07 702.73 L182.47 702.49 L185.94 702.25 L189.45 702.02 L192.99 701.78 L196.51 701.55 L200 701.3 L203.59 701.05 L207.37 700.79 L211.29 700.52 L215.26 700.26 L219.21 699.99 L223.06 699.74 L226.74 699.48 L230.17 699.24 L233.28 699.01 L236 698.8 L238.21 698.62 L239.94 698.46 L241.29 698.34 L242.39 698.22 L243.34 698.11 L244.26 697.98 L245.26 697.84 L246.46 697.67 L247.97 697.46 L249.9 697.2 L252.3 696.89 L255.08 696.55 L258.14 696.17 L261.39 695.77 L264.74 695.34 L268.09 694.9 L271.35 694.44 L274.44 693.96 L277.25 693.48 L279.7 693 L281.79 692.52 L283.63 692.05 L285.26 691.57 L286.73 691.08 L288.07 690.58 L289.35 690.04 L290.59 689.48 L291.85 688.87 L293.17 688.21 L294.6 687.5 L296.06 686.72 L297.48 685.89 L298.86 685 L300.24 684.07 L301.64 683.11 L303.07 682.13 L304.56 681.12 L306.13 680.11 L307.8 679.1 L309.6 678.1 L311.57 677.07 L313.71 675.99 L315.98 674.86 L318.34 673.72 L320.75 672.59 L323.16 671.47 L325.52 670.4 L327.79 669.38 L329.93 668.44 L331.9 667.6 L333.7 666.85 L335.37 666.15 L336.94 665.51 L338.43 664.93 L339.86 664.39 L341.26 663.91 L342.64 663.47 L344.02 663.07 L345.44 662.72 L346.9 662.4 L348.37 662.12 L349.79 661.9 L351.19 661.72 L352.58 661.58 L353.98 661.49 L355.41 661.44 L356.89 661.42 L358.44 661.45 L360.07 661.51 L361.8 661.6 L363.74 661.76 L365.93 662 L368.29 662.32 L370.73 662.67 L373.18 663.05 L375.56 663.43 L377.78 663.8 L379.76 664.13 L381.43 664.4 L382.7 664.6" fill="none" stroke="#9a9a9a" stroke-width="12.2" stroke-linejoin="round"/>
<path d="M105.07 731.03 L106.36 729.35 L107.7 727.8 L109.11 726.34 L110.6 724.93 L112.17 723.56 L113.8 722.22 L115.49 720.94 L117.23 719.7 L119.02 718.5 L120.85 717.35 L122.71 716.25 L124.6 715.2 L126.54 714.2 L128.55 713.25 L130.62 712.35 L132.74 711.49 L134.89 710.68 L137.06 709.92 L139.24 709.2 L141.41 708.52 L143.57 707.89 L145.7 707.3 L147.76 706.77 L149.73 706.3 L151.65 705.9 L153.56 705.54 L155.49 705.21 L157.49 704.92 L159.58 704.64 L161.81 704.37 L164.2 704.09 L166.8 703.8 L169.62 703.51 L172.62 703.24 L175.78 702.98 L179.07 702.73 L182.47 702.49 L185.94 702.25 L189.45 702.02 L192.99 701.78 L196.51 701.55 L200 701.3 L203.59 701.05 L207.37 700.79 L211.29 700.52 L215.26 700.26 L219.21 699.99 L223.06 699.74 L226.74 699.48 L230.17 699.24 L233.28 699.01 L236 698.8 L238.21 698.62 L239.94 698.46 L241.29 698.34 L242.39 698.22 L243.34 698.11 L244.26 697.98 L245.26 697.84 L246.46 697.67 L247.97 697.46 L249.9 697.2 L252.3 696.89 L255.08 696.55 L258.14 696.17 L261.39 695.77 L264.74 695.34 L268.09 694.9 L271.35 694.44 L274.44 693.96 L277.25 693.48 L279.7 693 L281.79 692.52 L283.63 692.05 L285.26 691.57 L286.73 691.08 L288.07 690.58 L289.35 690.04 L290.59 689.48 L291.85 688.87 L293.17 688.21 L294.6 687.5 L296.06 686.72 L297.48 685.89 L298.86 685 L300.24 684.07 L301.64 683.11 L303.07 682.13 L304.56 681.12 L306.13 680.11 L307.8 679.1 L309.6 678.1 L311.57 677.07 L313.71 675.99 L315.98 674.86 L318.34 673.72 L320.75 672.59 L323.16 671.47 L325.52 670.4 L327.79 669.38 L329.93 668.44 L331.9 667.6 L333.7 666.85 L335.37 666.15 L336.94 665.51 L338.43 664.93 L339.86 664.39 L341.26 663.91 L342.64 663.47 L344.02 663.07 L345.44 662.72 L346.9 662.4 L348.37 662.12 L349.79 661.9 L351.19 661.72 L352.58 661.58 L353.98 661.49 L355.41 661.44 L356.89 661.42 L358.44 661.45 L360.07 661.51 L361.8 661.6 L363.74 661.76 L365.93 662 L368.29 662.32 L370.73 662.67 L373.18 663.05 L375.56 663.43 L377.78 663.8 L379.76 664.13 L381.43 664.4 L382.7 664.6" fill="none" stroke="#8a8a8a" stroke-width="12.2" stroke-dasharray="0.8 0.8"/>
<path d="M95.88 771.03 L95.5 769.45 L95.16 767.92 L94.86 766.45 L94.6 765 L94.38 763.62 L94.22 762.34 L94.11 761.15 L94.05 760.04 L94.03 758.98 L94.05 757.96 L94.1 756.96 L94.18 755.98 L94.28 755 L94.4 754 L94.52 753.04 L94.64 752.15 L94.78 751.32 L94.93 750.52 L95.13 749.72 L95.38 748.89 L95.7 748 L96.1 747.02 L96.59 745.93 L97.2 744.7 L97.91 743.3 L98.7 741.74 L99.58 740.05 L100.54 738.28 L101.57 736.46 L102.67 734.62 L103.84 732.79 L105.07 731.03 L106.36 729.35 L107.7 727.8 L109.11 726.34 L110.6 724.93 L112.17 723.56 L113.8 722.22" fill="none" stroke="#a4a4a4" stroke-width="8.2" stroke-linejoin="round"/>
<path d="M99.86 770.07 L99.49 768.52 L99.17 767.07 L98.89 765.67 L98.64 764.32 L98.44 763.05 L98.3 761.9 L98.2 760.85 L98.15 759.88 L98.13 758.97 L98.15 758.09 L98.19 757.23 L98.26 756.36 L98.35 755.46 L98.47 754.51 L98.59 753.57 L98.7 752.75 L98.81 752.04 L98.94 751.41 L99.09 750.8 L99.28 750.17 L99.53 749.47 L99.86 748.65 L100.3 747.69 L100.87 746.53 L101.56 745.16 L102.35 743.62 L103.2 741.97 L104.13 740.26 L105.11 738.52 L106.16 736.77 L107.25 735.07 L108.38 733.45 L109.53 731.94 L110.72 730.57 L111.99 729.26 L113.37 727.96 L114.82 726.68 L116.39 725.4" fill="none" stroke="#2a2a2a" stroke-width="0.5"/>
<path d="M91.89 771.99 L91.5 770.37 L91.15 768.77 L90.83 767.22 L90.56 765.68 L90.32 764.2 L90.15 762.79 L90.03 761.46 L89.96 760.19 L89.93 758.98 L89.95 757.82 L90.01 756.7 L90.09 755.61 L90.2 754.54 L90.33 753.49 L90.46 752.5 L90.59 751.55 L90.74 750.61 L90.93 749.64 L91.18 748.64 L91.49 747.6 L91.87 746.52 L92.34 745.39 L92.89 744.17 L93.53 742.87 L94.25 741.44 L95.06 739.86 L95.96 738.13 L96.95 736.3 L98.02 734.4 L99.18 732.46 L100.43 730.52 L101.76 728.61 L103.18 726.76 L104.68 725.03 L106.23 723.43 L107.84 721.9 L109.52 720.43 L111.2 719.05" fill="none" stroke="#2a2a2a" stroke-width="0.5"/>
<path d="M109.8 812.2 L109.15 810.39 L108.28 808 L107.24 805.15 L106.08 801.96 L104.84 798.56 L103.59 795.07 L102.35 791.61 L101.2 788.32 L100.16 785.3 L99.3 782.7 L98.57 780.42 L97.92 778.3 L97.32 776.31 L96.79 774.45 L96.31 772.69 L95.88 771.03 L95.5 769.45 L95.16 767.92 L94.86 766.45 L94.6 765 L94.38 763.62 L94.22 762.34 L94.11 761.15 L94.05 760.04 L94.03 758.98 L94.05 757.96 L94.1 756.96 L94.18 755.98 L94.28 755 L94.4 754 L94.52 753.04 L94.64 752.15 L94.78 751.32 L94.93 750.52 L95.13 749.72 L95.38 748.89 L95.7 748 L96.1 747.02 L96.59 745.93 L97.2 744.7 L97.91 743.3 L98.7 741.74 L99.58 740.05 L100.54 738.28 L101.57 736.46 L102.67 734.62 L103.84 732.79 L105.07 731.03 L106.36 729.35" fill="none" stroke="#a9a9a9" stroke-width="5.6" stroke-linejoin="round"/>
<path d="M105.07 731.03 L106.36 729.35 L107.7 727.8 L109.11 726.34 L110.6 724.93 L112.17 723.56 L113.8 722.22 L115.49 720.94 L117.23 719.7 L119.02 718.5 L120.85 717.35 L122.71 716.25 L124.6 715.2 L126.54 714.2 L128.55 713.25 L130.62 712.35 L132.74 711.49 L134.89 710.68 L137.06 709.92 L139.24 709.2 L141.41 708.52 L143.57 707.89 L145.7 707.3 L147.76 706.77 L149.73 706.3 L151.65 705.9 L153.56 705.54 L155.49 705.21 L157.49 704.92 L159.58 704.64 L161.81 704.37 L164.2 704.09 L166.8 703.8 L169.62 703.51 L172.62 703.24 L175.78 702.98 L179.07 702.73 L182.47 702.49 L185.94 702.25 L189.45 702.02 L192.99 701.78 L196.51 701.55 L200 701.3 L203.59 701.05 L207.37 700.79 L211.29 700.52 L215.26 700.26 L219.21 699.99 L223.06 699.74 L226.74 699.48 L230.17 699.24 L233.28 699.01 L236 698.8 L238.21 698.62 L239.94 698.46 L241.29 698.34 L242.39 698.22 L243.34 698.11 L244.26 697.98 L245.26 697.84 L246.46 697.67 L247.97 697.46 L249.9 697.2 L252.3 696.89 L255.08 696.55 L258.14 696.17 L261.39 695.77 L264.74 695.34 L268.09 694.9 L271.35 694.44 L274.44 693.96 L277.25 693.48 L279.7 693 L281.79 692.52 L283.63 692.05 L285.26 691.57 L286.73 691.08 L288.07 690.58 L289.35 690.04 L290.59 689.48 L291.85 688.87 L293.17 688.21 L294.6 687.5 L296.06 686.72 L297.48 685.89 L298.86 685 L300.24 684.07 L301.64 683.11 L303.07 682.13 L304.56 681.12 L306.13 680.11 L307.8 679.1 L309.6 678.1 L311.57 677.07 L313.71 675.99 L315.98 674.86 L318.34 673.72 L320.75 672.59 L323.16 671.47 L325.52 670.4 L327.79 669.38 L329.93 668.44 L331.9 667.6 L333.7 666.85 L335.37 666.15 L336.94 665.51 L338.43 664.93 L339.86 664.39 L341.26 663.91 L342.64 663.47 L344.02 663.07 L345.44 662.72 L346.9 662.4 L348.37 662.12 L349.79 661.9 L351.19 661.72 L352.58 661.58 L353.98 661.49 L355.41 661.44 L356.89 661.42 L358.44 661.45 L360.07 661.51 L361.8 661.6 L363.74 661.76 L365.93 662 L368.29 662.32 L370.73 662.67 L373.18 663.05 L375.56 663.43 L377.78 663.8 L379.76 664.13 L381.43 664.4 L382.7 664.6" fill="none" stroke="#b4b4b4" stroke-width="6.2" stroke-linejoin="round"/>
<path d="M109.9 734.74 L111.08 733.21 L112.2 731.92 L113.4 730.68 L114.72 729.44 L116.11 728.21 L117.57 727.01 L119.11 725.85 L120.7 724.72 L122.34 723.62 L124.02 722.56 L125.74 721.54 L127.48 720.58 L129.24 719.67 L131.07 718.8 L132.98 717.97 L134.96 717.17 L136.97 716.41 L139.03 715.69 L141.1 715.01 L143.18 714.36 L145.24 713.76 L147.28 713.19 L149.22 712.69 L151.06 712.25 L152.85 711.88 L154.63 711.54 L156.44 711.24 L158.34 710.96 L160.35 710.69 L162.52 710.42 L164.89 710.15 L167.45 709.87 L170.21 709.58 L173.15 709.31 L176.26 709.06 L179.52 708.81 L182.89 708.57 L186.35 708.34 L189.86 708.11 L193.4 707.87 L196.93 707.63 L200.43 707.38 L204.01 707.13 L207.79 706.87 L211.7 706.61 L215.67 706.34 L219.61 706.08 L223.47 705.82 L227.16 705.57 L230.61 705.33 L233.74 705.1 L236.49 704.88 L238.73 704.69 L240.49 704.54 L241.9 704.41 L243.07 704.28 L244.1 704.16 L245.09 704.03 L246.11 703.88 L247.31 703.71 L248.79 703.5 L250.69 703.25 L253.07 702.94 L255.83 702.6 L258.89 702.23 L262.15 701.82 L265.52 701.39 L268.92 700.94 L272.24 700.47 L275.41 699.99 L278.35 699.48 L280.97 698.97 L283.23 698.45 L285.25 697.93 L287.08 697.39 L288.76 696.83 L290.32 696.25 L291.79 695.63 L293.18 695 L294.53 694.35 L295.9 693.67 L297.4 692.92 L299.05 692.04 L300.67 691.08 L302.21 690.1 L303.67 689.12 L305.1 688.14 L306.5 687.17 L307.91 686.22 L309.36 685.29 L310.87 684.38 L312.5 683.47 L314.36 682.49 L316.44 681.44 L318.66 680.35 L320.97 679.23 L323.34 678.11 L325.7 677.01 L328.03 675.95 L330.26 674.96 L332.36 674.04 L334.28 673.22 L336.05 672.47 L337.69 671.79 L339.2 671.18 L340.61 670.62 L341.93 670.13 L343.19 669.7 L344.4 669.31 L345.61 668.96 L346.83 668.66 L348.11 668.38 L349.41 668.13 L350.66 667.93 L351.88 667.78 L353.08 667.66 L354.29 667.58 L355.55 667.53 L356.87 667.52 L358.28 667.54 L359.79 667.6 L361.38 667.69 L363.15 667.83 L365.19 668.06 L367.45 668.36 L369.83 668.7 L372.23 669.08 L374.57 669.45 L376.78 669.82 L378.77 670.15 L380.47 670.43 L381.77 670.63" fill="none" stroke="#2a2a2a" stroke-width="0.5"/>
<path d="M100.23 727.31 L101.63 725.49 L103.2 723.68 L104.82 722.01 L106.49 720.42 L108.23 718.9 L110.02 717.44 L111.87 716.03 L113.76 714.68 L115.7 713.38 L117.68 712.14 L119.68 710.96 L121.72 709.82 L123.84 708.73 L126.03 707.69 L128.26 706.72 L130.52 705.81 L132.8 704.95 L135.09 704.14 L137.38 703.39 L139.65 702.68 L141.9 702.02 L144.12 701.41 L146.29 700.85 L148.39 700.35 L150.45 699.91 L152.49 699.53 L154.55 699.19 L156.64 698.88 L158.81 698.59 L161.09 698.31 L163.51 698.03 L166.15 697.73 L169.03 697.44 L172.1 697.16 L175.3 696.9 L178.63 696.64 L182.05 696.4 L185.53 696.17 L189.05 695.93 L192.58 695.7 L196.09 695.46 L199.57 695.22 L203.16 694.96 L206.96 694.7 L210.88 694.44 L214.85 694.17 L218.8 693.91 L222.64 693.65 L226.31 693.4 L229.73 693.16 L232.82 692.93 L235.51 692.72 L237.7 692.54 L239.39 692.39 L240.69 692.27 L241.71 692.16 L242.57 692.05 L243.43 691.94 L244.4 691.8 L245.61 691.63 L247.14 691.42 L249.11 691.15 L251.54 690.84 L254.34 690.49 L257.39 690.12 L260.63 689.72 L263.95 689.29 L267.26 688.85 L270.47 688.4 L273.47 687.94 L276.15 687.48 L278.43 687.03 L280.35 686.59 L282.02 686.16 L283.45 685.74 L284.7 685.33 L285.83 684.9 L286.91 684.45 L288 683.95 L289.17 683.39 L290.45 682.75 L291.8 682.08 L293.08 681.4 L294.28 680.69 L295.52 679.9 L296.81 679.03 L298.18 678.09 L299.64 677.08 L301.21 676.03 L302.9 674.94 L304.74 673.83 L306.7 672.73 L308.78 671.65 L310.98 670.53 L313.31 669.38 L315.72 668.22 L318.16 667.06 L320.61 665.93 L323.01 664.84 L325.32 663.8 L327.51 662.84 L329.52 661.98 L331.34 661.22 L333.05 660.51 L334.68 659.85 L336.25 659.23 L337.8 658.65 L339.33 658.12 L340.87 657.63 L342.44 657.18 L344.05 656.78 L345.69 656.42 L347.32 656.11 L348.92 655.86 L350.5 655.66 L352.08 655.5 L353.67 655.4 L355.28 655.34 L356.91 655.32 L358.6 655.35 L360.35 655.41 L362.22 655.51 L364.34 655.69 L366.67 655.95 L369.13 656.27 L371.64 656.64 L374.13 657.02 L376.54 657.41 L378.78 657.78 L380.76 658.11 L382.39 658.38 L383.63 658.57" fill="none" stroke="#2a2a2a" stroke-width="0.5"/>
<path d="M107.52 732.92 L108.76 731.31 L109.98 729.9 L111.29 728.55 L112.69 727.22 L114.17 725.92 L115.72 724.66 L117.33 723.43 L118.99 722.25 L120.71 721.1 L122.46 720 L124.25 718.94 L126.06 717.93 L127.91 716.98 L129.83 716.07 L131.82 715.2 L133.86 714.38 L135.95 713.59 L138.06 712.85 L140.18 712.15 L142.31 711.49 L144.42 710.87 L146.5 710.29 L148.5 709.78 L150.4 709.33 L152.26 708.93 L154.1 708.59 L155.98 708.27 L157.92 707.99 L159.97 707.71 L162.17 707.44 L164.55 707.17 L167.13 706.88 L169.92 706.6 L172.89 706.32 L176.03 706.07 L179.3 705.82 L182.68 705.58 L186.15 705.35 L189.66 705.11 L193.19 704.88 L196.73 704.64 L200.22 704.39 L203.8 704.14 L207.58 703.88 L211.5 703.61 L215.47 703.35 L219.41 703.09 L223.27 702.83 L226.95 702.58 L230.39 702.33 L233.52 702.1 L236.25 701.89 L238.48 701.7 L240.22 701.55 L241.6 701.42 L242.73 701.3 L243.73 701.18 L244.68 701.06 L245.69 700.91 L246.89 700.74 L248.39 700.53 L250.3 700.27 L252.69 699.97 L255.46 699.62 L258.52 699.25 L261.78 698.85 L265.14 698.42 L268.51 697.97 L271.81 697.5 L274.93 697.03 L277.81 696.53 L280.34 696.03 L282.52 695.53 L284.45 695.04 L286.18 694.53 L287.76 694 L289.22 693.46 L290.59 692.88 L291.91 692.28 L293.22 691.65 L294.56 690.99 L296.02 690.26 L297.58 689.43 L299.1 688.53 L300.56 687.59 L301.99 686.64 L303.4 685.67 L304.81 684.69 L306.26 683.71 L307.77 682.74 L309.36 681.78 L311.07 680.83 L312.99 679.83 L315.1 678.76 L317.34 677.65 L319.68 676.52 L322.07 675.39 L324.45 674.29 L326.79 673.22 L329.05 672.21 L331.16 671.29 L333.11 670.45 L334.89 669.71 L336.55 669.02 L338.09 668.39 L339.54 667.82 L340.91 667.31 L342.24 666.85 L343.53 666.44 L344.83 666.07 L346.14 665.74 L347.52 665.44 L348.9 665.18 L350.23 664.97 L351.54 664.8 L352.83 664.67 L354.14 664.58 L355.48 664.53 L356.88 664.52 L358.36 664.55 L359.93 664.6 L361.59 664.69 L363.44 664.84 L365.55 665.08 L367.86 665.39 L370.27 665.74 L372.7 666.11 L375.06 666.49 L377.27 666.86 L379.26 667.19 L380.94 667.47 L382.23 667.66" fill="none" stroke="#444" stroke-width="0.4"/>
<path d="M102.61 729.14 L103.95 727.39 L105.42 725.7 L106.93 724.14 L108.51 722.64 L110.16 721.19 L111.88 719.79 L113.65 718.44 L115.47 717.14 L117.33 715.9 L119.24 714.7 L121.17 713.56 L123.14 712.47 L125.17 711.42 L127.27 710.43 L129.42 709.49 L131.61 708.6 L133.83 707.77 L136.06 706.98 L138.29 706.25 L140.52 705.56 L142.72 704.91 L144.9 704.31 L147.01 703.76 L149.05 703.28 L151.04 702.86 L153.02 702.48 L155.01 702.15 L157.06 701.85 L159.19 701.56 L161.44 701.29 L163.85 701.01 L166.47 700.72 L169.32 700.42 L172.35 700.15 L175.54 699.89 L178.85 699.64 L182.25 699.39 L185.73 699.16 L189.25 698.93 L192.78 698.69 L196.3 698.45 L199.78 698.21 L203.37 697.95 L207.16 697.69 L211.08 697.43 L215.05 697.16 L219 696.9 L222.85 696.64 L226.52 696.39 L229.95 696.15 L233.05 695.92 L235.75 695.71 L237.95 695.53 L239.66 695.38 L240.99 695.25 L242.04 695.14 L242.95 695.03 L243.83 694.91 L244.82 694.77 L246.02 694.6 L247.54 694.39 L249.5 694.13 L251.92 693.82 L254.7 693.47 L257.76 693.1 L261 692.69 L264.34 692.27 L267.67 691.83 L270.9 691.37 L273.94 690.9 L276.69 690.44 L279.06 689.97 L281.06 689.51 L282.81 689.06 L284.34 688.61 L285.7 688.16 L286.93 687.69 L288.11 687.2 L289.28 686.67 L290.49 686.09 L291.79 685.44 L293.18 684.74 L294.55 684.02 L295.85 683.25 L297.16 682.41 L298.5 681.51 L299.88 680.56 L301.33 679.56 L302.86 678.53 L304.49 677.48 L306.25 676.42 L308.13 675.37 L310.15 674.31 L312.32 673.21 L314.62 672.08 L317.01 670.93 L319.43 669.78 L321.86 668.65 L324.24 667.57 L326.54 666.54 L328.7 665.6 L330.69 664.75 L332.5 663.99 L334.19 663.28 L335.79 662.63 L337.32 662.03 L338.81 661.48 L340.28 660.97 L341.74 660.5 L343.22 660.08 L344.73 659.7 L346.28 659.36 L347.84 659.07 L349.35 658.83 L350.84 658.64 L352.33 658.49 L353.82 658.39 L355.34 658.34 L356.9 658.32 L358.52 658.35 L360.21 658.41 L362.01 658.51 L364.04 658.67 L366.31 658.93 L368.71 659.24 L371.19 659.6 L373.67 659.99 L376.06 660.37 L378.28 660.74 L380.27 661.07 L381.92 661.34 L383.17 661.54" fill="none" stroke="#444" stroke-width="0.4"/>
<path d="M105.54 731.39 L106.82 729.73 L108.14 728.21 L109.53 726.77 L111.01 725.37 L112.56 724.01 L114.17 722.7 L115.84 721.42 L117.57 720.19 L119.35 719 L121.16 717.86 L123.01 716.77 L124.88 715.73 L126.81 714.74 L128.8 713.8 L130.85 712.9 L132.96 712.05 L135.09 711.25 L137.25 710.49 L139.42 709.77 L141.59 709.1 L143.74 708.47 L145.86 707.88 L147.9 707.35 L149.86 706.89 L151.77 706.48 L153.66 706.13 L155.59 705.81 L157.57 705.51 L159.66 705.23 L161.88 704.96 L164.27 704.69 L166.86 704.4 L169.68 704.11 L172.67 703.83 L175.83 703.57 L179.12 703.33 L182.51 703.09 L185.98 702.85 L189.49 702.62 L193.03 702.38 L196.55 702.14 L200.04 701.9 L203.63 701.64 L207.42 701.38 L211.33 701.12 L215.3 700.86 L219.25 700.59 L223.1 700.33 L226.78 700.08 L230.21 699.84 L233.33 699.61 L236.05 699.4 L238.26 699.21 L239.99 699.06 L241.35 698.93 L242.45 698.82 L243.41 698.7 L244.34 698.58 L245.34 698.44 L246.54 698.27 L248.05 698.06 L249.98 697.79 L252.38 697.49 L255.15 697.14 L258.21 696.77 L261.47 696.36 L264.81 695.94 L268.17 695.49 L271.44 695.03 L274.53 694.56 L277.36 694.07 L279.82 693.59 L281.93 693.1 L283.79 692.62 L285.44 692.14 L286.93 691.65 L288.3 691.13 L289.59 690.59 L290.85 690.02 L292.12 689.41 L293.44 688.75 L294.88 688.03 L296.36 687.25 L297.79 686.4 L299.19 685.5 L300.58 684.57 L301.98 683.61 L303.41 682.62 L304.89 681.62 L306.45 680.62 L308.11 679.62 L309.89 678.63 L311.84 677.6 L313.98 676.52 L316.25 675.4 L318.6 674.27 L321 673.13 L323.41 672.02 L325.76 670.94 L328.03 669.93 L330.17 668.99 L332.13 668.15 L333.93 667.4 L335.6 666.71 L337.16 666.07 L338.64 665.49 L340.07 664.96 L341.45 664.48 L342.81 664.04 L344.18 663.65 L345.57 663.3 L347.02 662.99 L348.47 662.72 L349.88 662.49 L351.26 662.31 L352.63 662.18 L354.01 662.09 L355.43 662.04 L356.89 662.02 L358.42 662.05 L360.04 662.11 L361.76 662.2 L363.68 662.36 L365.86 662.6 L368.2 662.91 L370.64 663.26 L373.09 663.64 L375.46 664.03 L377.68 664.39 L379.66 664.72 L381.33 665 L382.61 665.19" fill="none" stroke="#666" stroke-width="0.35"/>
<path d="M112.43 811.25 L111.78 809.44 L110.91 807.04 L109.87 804.19 L108.71 801 L107.48 797.6 L106.22 794.12 L104.99 790.68 L103.84 787.4 L102.82 784.41 L101.96 781.83 L101.25 779.58 L100.6 777.48 L100.01 775.52 L99.48 773.69 L99.01 771.97 L98.59 770.35 L98.22 768.82 L97.9 767.34 L97.61 765.92 L97.36 764.53 L97.16 763.23 L97.01 762.04 L96.91 760.95 L96.85 759.93 L96.83 758.97 L96.85 758.05 L96.89 757.15 L96.96 756.24 L97.06 755.32 L97.18 754.35 L97.3 753.4 L97.41 752.56 L97.53 751.81 L97.67 751.13 L97.83 750.46 L98.04 749.76 L98.31 749 L98.67 748.13 L99.12 747.13 L99.7 745.95 L100.41 744.57 L101.19 743.02 L102.06 741.37 L102.99 739.63 L103.99 737.86 L105.05 736.09 L106.17 734.35 L107.33 732.68 L108.58 731.06" fill="none" stroke="#2a2a2a" stroke-width="0.5"/>
<path d="M107.17 813.15 L106.52 811.34 L105.65 808.96 L104.61 806.11 L103.45 802.91 L102.21 799.51 L100.95 796.01 L99.71 792.55 L98.55 789.24 L97.51 786.2 L96.64 783.57 L95.9 781.26 L95.24 779.11 L94.64 777.1 L94.09 775.21 L93.6 773.41 L93.16 771.71 L92.77 770.08 L92.42 768.5 L92.11 766.97 L91.84 765.47 L91.61 764.01 L91.44 762.65 L91.32 761.36 L91.25 760.14 L91.23 758.98 L91.25 757.86 L91.3 756.78 L91.39 755.73 L91.5 754.69 L91.62 753.65 L91.75 752.67 L91.87 751.74 L92.02 750.83 L92.2 749.92 L92.43 748.98 L92.72 748.01 L93.09 746.99 L93.53 745.91 L94.07 744.73 L94.7 743.45 L95.41 742.03 L96.22 740.45 L97.11 738.74 L98.09 736.93 L99.15 735.05 L100.29 733.14 L101.51 731.24 L102.81 729.37 L104.14 727.64" fill="none" stroke="#2a2a2a" stroke-width="0.5"/>
<path d="M110.08 812.1 L109.43 810.29 L108.56 807.9 L107.52 805.04 L106.36 801.86 L105.13 798.45 L103.87 794.97 L102.64 791.51 L101.48 788.22 L100.45 785.21 L99.59 782.61 L98.86 780.33 L98.2 778.21 L97.61 776.23 L97.08 774.37 L96.6 772.62 L96.17 770.96 L95.79 769.38 L95.45 767.86 L95.16 766.39 L94.9 764.95 L94.68 763.58 L94.52 762.31 L94.41 761.13 L94.35 760.02 L94.33 758.97 L94.35 757.97 L94.4 756.98 L94.47 756.01 L94.58 755.03 L94.7 754.04 L94.82 753.07 L94.94 752.2 L95.07 751.38 L95.23 750.59 L95.42 749.8 L95.67 748.98 L95.98 748.1 L96.37 747.14 L96.87 746.06 L97.47 744.83 L98.18 743.43 L98.97 741.88 L99.85 740.19 L100.8 738.43 L101.83 736.61 L102.92 734.77 L104.09 732.96 L105.31 731.2 L106.59 729.53" fill="none" stroke="#555" stroke-width="0.4"/>
<path d="M72.5 730L87.5 723.6L97 744.5L99.5 754L92 762L84.5 756.5Z" fill="#a2a2a2" stroke="#333" stroke-width="0.45"/>
<path d="M79.5 733L86.5 749.5" fill="none" stroke="#333" stroke-width="3.2" stroke-dasharray="0.45 0.75"/>
<path d="M86 726L90.5 736.5" fill="none" stroke="#333" stroke-width="2" stroke-dasharray="0.45 0.75"/>
<rect x="74.3" y="730.6" width="1.5" height="1.3" fill="#2a5cff"/><rect x="77" y="729.6" width="1.5" height="1.3" fill="#2a5cff"/>
<rect x="352.3" y="662.5" width="1.3" height="1.2" fill="#2a5cff"/><rect x="355.8" y="662" width="1.3" height="1.2" fill="#2a5cff"/>
<rect x="344.5" y="671" width="1" height="2.2" fill="#d87b5a" transform="rotate(-20 345 672)"/><rect x="348" y="670" width="1" height="2.2" fill="#d87b5a" transform="rotate(-20 348.5 671)"/>
<circle cx="390.1" cy="669.1" r="7.2" fill="#b5b5b5" stroke="#c9963a" stroke-width="0.7"/>
<path d="M366 661.5L383 664.2" fill="none" stroke="#b4b4b4" stroke-width="5"/>
<path d="M99.3 772.1L103.5 771.7L109.8 786.9L105.2 788.6Z M102.5 754.2L115.1 731L117.2 733.1L104.6 756.3Z M96 738.4L100.3 736.3L101.4 738.4L97.2 740.5Z M90.4 748.9L93.4 747.9L94.6 752.1L91.7 753.2ZM177.6 696.4L180.4 696.2L180.7 699.6L177.9 699.8Z M229.2 692.3L232.4 692L232.8 696.6L229.6 696.9Z M271.2 689.3L274.2 688.7L275 692.7L272 693.3Z M277.2 688.2L280.2 687.6L281 691.6L278 692.2Z M306.5 677.2L309.2 675.9L310.6 679L307.9 680.2ZM363.5 673.3L380 673.6L385.5 677L371 676.5L364 675.2Z M380.5 669.5L382.5 669L385.8 676.5L383 676.5Z M279.8 698.6L288.5 697L288.8 698.6L280.2 700.4Z" fill="#2db82d" stroke="#1f8f1f" stroke-width="0.3"/>
<rect x="286.5" y="699.3" width="2" height="1.8" fill="#222"/>
<path d="M99.3 824.9 L71.9 757 L100.4 745.8 L127.8 813.3ZM91.3 792.8 L63.4 725.3 L92.5 714.1 L120.4 780.6ZM151 683.9 L166.8 708.8 L105.6 753.1 L89.8 726.7ZM157.3 690.3 L230.1 685.2 L232.2 715.2 L159.4 719.8ZM227.5 685 L300.6 679.1 L302.8 709 L229.8 714.7ZM291.6 679.1 L358.8 648.2 L369.3 676.6 L303.6 705.7ZM331.2 655.7 L405.8 653.1 L405.8 683.3 L331.9 685.5Z" fill="none" stroke="#111" stroke-width="1.4" stroke-dasharray="2.9 1.5"/>
</g>
<text transform="translate(210 823)" font-size="11" fill="#1c1c1c">Sheet Layout</text>
<path d="M210 826.5H274.8" fill="none" stroke="#222" stroke-width="0.8"/>
</g>
<g id="legend">
<text transform="translate(538.8 653.8) scale(0.7773 1)" font-size="11.2" fill="#1c1c1c">LEGEND</text>
<path d="M538.8 656H574.6" fill="none" stroke="#222" stroke-width="0.8"/>
<rect x="452.5" y="662" width="56.3" height="23.5" fill="#9b9b9b"/>
<text transform="translate(483 696.8) scale(0.8812 1)" font-size="7" text-anchor="middle" fill="#1c1c1c">ER2</text>
<path d="M452.5 699.5H508.8M452.5 702.5H508.8" fill="none" stroke="#333" stroke-width="0.7"/>
<text transform="translate(482.7 717) scale(0.9343 1)" font-size="7" text-anchor="middle" fill="#1c1c1c">B1</text>
<path d="M452.5 719.3H508.8M452.5 724.5H508.8" fill="none" stroke="#333" stroke-width="0.7"/>
<path d="M452.5 722H508.8" fill="none" stroke="#555" stroke-width="0.9" stroke-dasharray="2.4 1.2"/>
<text transform="translate(482.7 733) scale(0.8684 1)" font-size="7" text-anchor="middle" fill="#1c1c1c">SM3</text>
<path d="M452.5 735.8H508.8" fill="none" stroke="#333" stroke-width="0.7"/>
<path d="M452.5 738.8H508.8" fill="none" stroke="#666" stroke-width="1.5"/>
<path d="M445.5 753.7H519" fill="none" stroke="#ff74f6" stroke-width="1.1"/>
<path d="M445.5 766.4H474.6M486.8 766.4H519" fill="none" stroke="#6fe06a" stroke-width="0.9"/>
<text transform="translate(480.6 769.2) scale(0.8452 1)" font-size="8" text-anchor="middle" fill="#1c1c1c">3.5</text>
<path d="M445.5 775.3H519" fill="none" stroke="#ffcd6b" stroke-width="1"/>
<rect x="445.5" y="784.6" width="73.5" height="4" fill="#3a3a3a"/><rect x="462.8" y="785.6" width="13.1" height="2" fill="#fff"/><rect x="488.8" y="785.6" width="12.5" height="2" fill="#fff"/>
<defs><pattern id="gb" width="6.5" height="6" patternUnits="userSpaceOnUse"><circle cx="2" cy="2" r="1.5" fill="none" stroke="#8be08b" stroke-width="0.5"/><circle cx="5.2" cy="4.8" r="1.2" fill="none" stroke="#8be08b" stroke-width="0.5"/></pattern>
<pattern id="dots2" x="468.6" y="820.8" width="4" height="6.8" patternUnits="userSpaceOnUse"><rect x="0.6" y="0.6" width="1.2" height="1.1" fill="#52d652"/><rect x="2.6" y="4" width="1.2" height="1.1" fill="#52d652"/></pattern></defs>
<rect x="467.6" y="797.6" width="32.8" height="16.8" rx="1.6" fill="#fff" stroke="#666" stroke-width="0.9"/><rect x="468.5" y="799" width="31" height="14.5" fill="url(#gb)"/>
<rect x="467.6" y="819.1" width="32.8" height="16.6" rx="1.6" fill="#fff" stroke="#666" stroke-width="0.9"/><rect x="468.5" y="820.3" width="31" height="14.5" fill="url(#dots2)"/>
<text transform="translate(540.5 677.5) scale(1.0316 1)" font-size="9" fill="#1c1c1c">Proposed pavement reconstruction</text>
<text transform="translate(540.5 704.5) scale(1.0552 1)" font-size="9" fill="#1c1c1c">Proposed flush edge restraint (ER2)</text>
<text transform="translate(540.5 724.5) scale(1.0318 1)" font-size="9" fill="#1c1c1c">Proposed upright kerb (B1)</text>
<text transform="translate(540.5 740.8) scale(1.0127 1)" font-size="9" fill="#1c1c1c">Proposed semi-mountable kerb (SM3)</text>
<text transform="translate(540.5 757.5) scale(1.1456 1)" font-size="9" fill="#1c1c1c">Proposed extent of cut/fill batter</text>
<text transform="translate(540.5 774.5) scale(1.0295 1)" font-size="9" fill="#1c1c1c">Design surface contours (100mm interval)</text>
<text transform="translate(540.5 790.8) scale(1.0097 1)" font-size="9" fill="#1c1c1c">Proposed drainage pipe</text>
<text transform="translate(540.5 809.5) scale(1.0107 1)" font-size="9" fill="#1c1c1c">Proposed garden bed</text>
<text transform="translate(540.5 830.8) scale(1.0675 1)" font-size="9" fill="#1c1c1c">Proposed infiltration garden</text>
<path d="M742.5 657.5H769M773 657.5H777.5M781.3 657.5H785.5M789 657.5H815.8" fill="none" stroke="#444" stroke-width="0.8"/>
<path d="M742.5 675.5H815.8" fill="none" stroke="#aaaaaa" stroke-width="0.8" stroke-dasharray="4.5 5.5"/>
<path d="M742.5 693.5H815.8" fill="none" stroke="#aaaaaa" stroke-width="0.8" stroke-dasharray="3 2.2"/>
<path d="M742.5 710.5H766.5M791.5 710.5H815.8" fill="none" stroke="#f2413c" stroke-width="0.8"/>
<text transform="translate(778 713) scale(1.1057 1)" font-size="6.3" text-anchor="middle" fill="#f2413c">E/O</text>
<path d="M742.5 728.5H769M788.5 728.5H815.8" fill="none" stroke="#444" stroke-width="0.8"/>
<text transform="translate(779.3 730.4)" font-size="5" text-anchor="middle" fill="#444">T</text>
<path d="M742.5 746.5H767.5M790.5 746.5H815.8" fill="none" stroke="#5aa9f5" stroke-width="0.9"/>
<text transform="translate(779.8 748.6)" font-size="6.3" text-anchor="middle" fill="#5aa9f5">W</text>
<path d="M742.5 764.5H769M788.5 764.5H815.8" fill="none" stroke="#555" stroke-width="0.9"/>
<text transform="translate(778.5 766.3)" font-size="5" text-anchor="middle" fill="#555">S</text>
<path d="M742.5 781.5H773M784.5 781.5H815.8" fill="none" stroke="#aaa" stroke-width="0.8"/>
<text transform="translate(779.3 781.7)" font-size="6" text-anchor="middle" fill="#aaa">Y</text>
<path d="M742.5 799.5H773M784.5 799.5H815.8" fill="none" stroke="#aaa" stroke-width="0.8"/>
<text transform="translate(779.3 804)" font-size="6" text-anchor="middle" fill="#aaa">Y</text>
<path d="M742.5 817.5H766M791 817.5H815.8" fill="none" stroke="#aaa" stroke-width="0.8"/>
<text transform="translate(777.5 819)" font-size="6" text-anchor="middle" fill="#aaa">/</text>
<text transform="translate(837.5 661.3) scale(1.0466 1)" font-size="9" fill="#1c1c1c">Property boundary</text>
<text transform="translate(837.5 679.3) scale(1.0399 1)" font-size="9" fill="#1c1c1c">Existing edge of bitumen</text>
<text transform="translate(837.5 697) scale(1.0387 1)" font-size="9" fill="#1c1c1c">Existing road shoulder</text>
<text transform="translate(837.5 715) scale(1.0197 1)" font-size="9" fill="#1c1c1c">Existing overhead power</text>
<text transform="translate(837.5 732.5) scale(1.0663 1)" font-size="9" fill="#1c1c1c">Existing underground telstra</text>
<text transform="translate(837.5 750) scale(1.0488 1)" font-size="9" fill="#1c1c1c">Existing Water</text>
<text transform="translate(837.5 768) scale(1.0628 1)" font-size="9" fill="#1c1c1c">Existing sewer gravity</text>
<text transform="translate(837.5 785.8) scale(1.0354 1)" font-size="9" fill="#1c1c1c">Existing bank bottom</text>
<text transform="translate(837.5 803.8) scale(1.0431 1)" font-size="9" fill="#1c1c1c">Existing bank top</text>
<text transform="translate(837.5 821.3) scale(1.0262 1)" font-size="9" fill="#1c1c1c">Existing fence</text>
<path d="M1044.5 700.8m-11.8 0a11.8 11.8 0 1 0 23.6 0a11.8 11.8 0 1 0 -23.6 0" fill="none" stroke="#9fe89f" stroke-width="0.7"/>
<path d="M1045.23 697.38L1044.81 690.3L1048.49 691.09ZM1047.98 700.43L1054.58 697.85L1054.97 701.59ZM1045.92 704L1050.42 709.47L1046.98 711ZM1041.9 703.14L1038.08 709.11L1035.57 706.32ZM1041.47 699.05L1034.61 697.26L1036.49 694.01Z" fill="none" stroke="#9fe89f" stroke-width="0.7"/>
<circle cx="1044.5" cy="700.8" r="1" fill="none" stroke="#9fe89f" stroke-width="0.6"/>
<path d="M1037 717.5H1052.5V725H1037Z" fill="#fff" stroke="#666" stroke-width="0.7"/><path d="M1037.6 717.8H1052.2V724.6Z" fill="#666"/>
<circle cx="1043.7" cy="740.5" r="4.8" fill="#666" stroke="#333" stroke-width="0.7"/><rect x="1048.3" y="739.4" width="2.6" height="2.2" fill="#333"/>
<rect x="1040" y="752.5" width="10.5" height="12" fill="#eee" stroke="#aaa" stroke-width="1.1"/><text x="1045.2" y="760.6" font-size="5" text-anchor="middle" fill="#999">H</text><path d="M1041 763.6H1049.5" stroke="#999" stroke-width="0.6"/>
<path d="M1036.8 779.3H1052.8M1044.7 775.2V783.4" fill="none" stroke="#f2413c" stroke-width="0.9"/>
<path d="M1035.5 798H1054.5" fill="none" stroke="#999" stroke-width="0.7"/>
<circle cx="1045" cy="801" r="2" fill="#fff" stroke="#888" stroke-width="0.6"/>
<text transform="translate(1103.3 704.3) scale(1.0777 1)" font-size="9" fill="#1c1c1c">Existing tree to remain</text>
<text transform="translate(1103.3 725) scale(1.0155 1)" font-size="9" fill="#1c1c1c">Existing telecommunications pit</text>
<text transform="translate(1103.3 743.3) scale(1.0407 1)" font-size="9" fill="#1c1c1c">Existing power / telecommunications pole</text>
<text transform="translate(1103.3 760.8) scale(1.0385 1)" font-size="9" fill="#1c1c1c">Existing hydrant</text>
<text transform="translate(1103.3 783.3) scale(1.0716 1)" font-size="9" fill="#1c1c1c">Existing stay wire</text>
<text transform="translate(1103.3 803) scale(1.0193 1)" font-size="9" fill="#1c1c1c">Existing sign</text>
</g>
<g id="titleblock">
<rect x="36.3" y="21.6" width="1269.2" height="899.9" fill="none" stroke="#8a8a8a" stroke-width="1.3"/>
<path d="M36.3 841.6L60 841.6" stroke="#555" stroke-width="1.1" fill="none"/>
<path d="M254 841.6L1305.5 841.6" stroke="#666" stroke-width="1.1" fill="none"/>
<path d="M36.3 921.5L1305.5 921.5" stroke="#555" stroke-width="1.3" fill="none"/>
<path d="M36.3 853L59.5 853" stroke="#333" stroke-width="0.9" fill="none"/>
<path d="M254.5 853L332.5 853" stroke="#333" stroke-width="0.9" fill="none"/>
<path d="M36.3 864.5L59.5 864.5" stroke="#333" stroke-width="0.9" fill="none"/>
<path d="M254.5 864.5L332.5 864.5" stroke="#333" stroke-width="0.9" fill="none"/>
<path d="M36.3 876L59.5 876" stroke="#333" stroke-width="0.9" fill="none"/>
<path d="M254.5 876L332.5 876" stroke="#333" stroke-width="0.9" fill="none"/>
<path d="M36.3 887.5L332.5 887.5" stroke="#333" stroke-width="0.9" fill="none"/>
<path d="M36.3 898.9L332.5 898.9" stroke="#333" stroke-width="0.9" fill="none"/>
<path d="M36.3 910.3L332.5 910.3" stroke="#333" stroke-width="0.9" fill="none"/>
<path d="M58 841.6L58 921.5" stroke="#333" stroke-width="0.9" fill="none"/>
<path d="M254.5 841.6L254.5 921.5" stroke="#333" stroke-width="0.9" fill="none"/>
<path d="M280 841.6L280 921.5" stroke="#333" stroke-width="0.9" fill="none"/>
<path d="M305.5 841.6L305.5 921.5" stroke="#333" stroke-width="0.9" fill="none"/>
<path d="M332.5 841.6L332.5 921.5" stroke="#333" stroke-width="0.9" fill="none"/>
<path d="M36.3 887.5L332.5 887.5" stroke="#333" stroke-width="0.9" fill="none"/>
<path d="M508.3 841.6L508.3 921.5" stroke="#444" stroke-width="1.1" fill="none"/>
<path d="M755.5 841.6L755.5 921.5" stroke="#444" stroke-width="1.1" fill="none"/>
<path d="M954.3 841.6L954.3 921.5" stroke="#444" stroke-width="1.1" fill="none"/>
<path d="M1193.5 841.6L1193.5 921.5" stroke="#444" stroke-width="1.1" fill="none"/>
<text transform="translate(68.3 862.4)" font-size="22.1" font-weight="bold" fill="#9a9a9a">CONSTRUCTION</text>
<text transform="translate(87.6 880.6)" font-size="13.31" font-weight="bold" fill="#9a9a9a">FOR CONSTRUCTION</text>
<text transform="translate(47 906.9)" font-size="6.2" text-anchor="middle" fill="#111">1</text>
<text transform="translate(64.5 906.9)" font-size="6.2" fill="#111">Construction issue</text>
<text transform="translate(257.8 906.9)" font-size="6.2" fill="#111">A.D.</text>
<text transform="translate(285.8 906.9)" font-size="6.2" fill="#111">T.C.</text>
<text transform="translate(307 906.9)" font-size="6.17" fill="#111">05.12.24</text>
<text transform="translate(37.3 918.2)" font-size="6.3" font-weight="bold" fill="#111">Issue</text>
<text transform="translate(64.5 918.2)" font-size="6.18" font-weight="bold" fill="#111">Amendment details</text>
<text transform="translate(257.5 918.2)" font-size="6.38" font-weight="bold" fill="#111">Drawn</text>
<text transform="translate(283.5 918.2)" font-size="6.33" font-weight="bold" fill="#111">Check</text>
<text transform="translate(311.8 918.2)" font-size="6.3" font-weight="bold" fill="#111">Date</text>
<text transform="translate(38.5 927)" font-size="4.88" font-weight="bold" fill="#111">ACAD FILE No:</text>
<text transform="translate(79 927)" font-size="4.9" fill="#444">G:\Engineer\CAD\2700-2799\2796. South Beach Road, Road and Drainage Upgrade, Brunswick Heads\Civil Design\DWG\CONSTRUCTION\2796_Sth Bch Rd-IFC.dwg</text>
<text transform="translate(336 856)" font-size="5.57" font-weight="bold" fill="#111">SCALE: A1 SHEET 1:125, A3 SHEET 1:250</text>
<rect x="337" y="865.9" width="15.98" height="3.1" fill="#000"/>
<rect x="352.98" y="865.9" width="15.98" height="3.1" fill="#fff"/>
<rect x="368.96" y="865.9" width="15.98" height="3.1" fill="#000"/>
<rect x="384.94" y="865.9" width="15.98" height="3.1" fill="#fff"/>
<rect x="400.92" y="865.9" width="15.98" height="3.1" fill="#000"/>
<rect x="416.9" y="865.9" width="15.98" height="3.1" fill="#fff"/>
<rect x="432.88" y="865.9" width="15.98" height="3.1" fill="#000"/>
<rect x="448.86" y="865.9" width="15.98" height="3.1" fill="#fff"/>
<rect x="464.84" y="865.9" width="15.98" height="3.1" fill="#000"/>
<rect x="480.82" y="865.9" width="15.98" height="3.1" fill="#fff"/>
<rect x="337" y="865.9" width="159.8" height="3.1" fill="none" stroke="#000" stroke-width="0.5"/>
<text transform="translate(337.4 864.1)" font-size="5.2" text-anchor="middle" fill="#222">0</text>
<text transform="translate(368.94 864.1)" font-size="5.2" text-anchor="middle" fill="#222">2.5</text>
<text transform="translate(400.88 864.1)" font-size="5.2" text-anchor="middle" fill="#222">5</text>
<text transform="translate(432.82 864.1)" font-size="5.2" text-anchor="middle" fill="#222">7.5</text>
<text transform="translate(464.76 864.1)" font-size="5.2" text-anchor="middle" fill="#222">10</text>
<text transform="translate(490.6 864.1)" font-size="5.2" fill="#222">12.5m</text>
<text transform="translate(334.5 918.2)" font-size="6.7" font-weight="bold" fill="#111"># Use figured dimensions only. Do not scale.</text>
<text transform="translate(512 854.6)" font-size="11.07" font-weight="bold" fill="#111">Infrastructure</text>
<text transform="translate(512 865.2)" font-size="11.06" font-weight="bold" fill="#111">Services</text>
<text transform="translate(512.5 875)" font-size="6.56" font-weight="bold" fill="#111">Council offices</text>
<text transform="translate(512.5 883)" font-size="6.6" font-weight="bold" fill="#111">70-90 Station Street,</text>
<text transform="translate(512.5 890.9)" font-size="6.65" font-weight="bold" fill="#111">Mullumbimby  NSW 2482.</text>
<text transform="translate(512.5 900.8)" font-size="6.6" font-weight="bold" fill="#111">Phone</text>
<text transform="translate(546.8 900.8)" font-size="6.68" font-weight="bold" fill="#111">02 66267000</text>
<text transform="translate(512.5 908.9)" font-size="6.6" font-weight="bold" fill="#111">Fax</text>
<text transform="translate(546.8 908.9)" font-size="6.68" font-weight="bold" fill="#111">02 66843018</text>
<text transform="translate(512.5 918.1)" font-size="6.6" font-weight="bold" fill="#111">Website</text>
<text transform="translate(546.3 918.1)" font-size="6.75" font-weight="bold" fill="#111">www.byron.nsw.gov.au</text>
<g id="logo" fill="none" stroke="#1d7885" stroke-linecap="butt">
<path d="M668.3 844C671.5 850 674.5 857 675.4 863.2C674.5 869 671.5 876 668.9 881.8" stroke-width="3.1"/>
<path d="M674.8 844C678 850 681.5 857 682.3 863.2C681.5 869 678 876 675.3 881.8" stroke-width="3.1"/>
<path d="M679.8 844.3L682 846.3" stroke-width="1.6"/>
<path d="M681.6 848.3C686.6 847.1 689.6 852.1 694.6 852.9S700.5 856.7 704.5 858.2" stroke-width="1.9"/>
<path d="M682.6 852.6C687.6 851.4 690.6 856.4 695.6 857.2S702 858.7 706 860.2" stroke-width="1.9"/>
<path d="M683.4 856.9C688.4 855.7 691.4 860.7 696.4 861.5S703.5 860.1 707.5 861.6" stroke-width="1.9"/>
<path d="M683.8 861C688.8 859.8 691.8 864.8 696.8 865.6S705.5 861.1 709.5 862.6" stroke-width="1.8"/>
<path d="M683.8 865.6C688.8 861.1 699 866.7 708 864.2" stroke-width="1.8"/>
<path d="M683 869.8C688 865.3 696.5 868.5 705.5 866" stroke-width="1.8"/>
<path d="M681.8 874C686.8 869.5 693.5 870.5 702.5 868" stroke-width="1.7"/>
<path d="M680 878.4C685 873.9 690.5 872.1 699.5 869.6" stroke-width="1.6"/>
<path d="M678.2 882C683.2 877.5 681 877 690 874.5" stroke-width="1.4"/>
</g>
<text transform="translate(667 896.8) scale(1.0565 1)" font-size="10.3" font-weight="bold" fill="#17717d">BYRON</text>
<text transform="translate(667 908.7) scale(0.8483 1)" font-size="10.8" fill="#2a8f9c">SHIRE</text>
<clipPath id="cpl"><rect x="660" y="905" width="60" height="15.9"/></clipPath>
<g clip-path="url(#cpl)"><text transform="translate(667 919.9) scale(0.9423 1)" font-size="10.8" fill="#2a8f9c">COUNCIL</text></g>
<path d="M755.5 877.5L954.3 877.5" stroke="#333" stroke-width="0.9" fill="none"/>
<path d="M755.5 886.3L954.3 886.3" stroke="#333" stroke-width="0.9" fill="none"/>
<path d="M755.5 895L954.3 895" stroke="#333" stroke-width="0.9" fill="none"/>
<path d="M755.5 903.8L954.3 903.8" stroke="#333" stroke-width="0.9" fill="none"/>
<path d="M755.5 912.5L954.3 912.5" stroke="#333" stroke-width="0.9" fill="none"/>
<path d="M796.5 877.5L796.5 903.8" stroke="#333" stroke-width="0.9" fill="none"/>
<path d="M852.5 877.5L852.5 921.5" stroke="#333" stroke-width="0.9" fill="none"/>
<text transform="translate(853 851.9)" font-size="5.56" text-anchor="middle" font-weight="bold" fill="#111">Approved on behalf of the General Manager</text>
<text transform="translate(876.8 870.2)" font-size="5.5" font-weight="bold" fill="#111">Date</text>
<text transform="translate(897.8 868.6)" font-size="5.5" font-weight="bold" fill="#111">16.01.25</text>
<path d="M786 871.3H870.5M895 871.3H922" stroke="#222" stroke-width="0.8" stroke-dasharray="0.9 0.9" fill="none"/>
<path d="M808.5 869.5C806.5 868 808.5 859.5 812 857.5C814.5 856.3 813 864 810 868.5C808.5 870.5 807.5 870 808.5 867C811 860 815 856.5 820 857.5C827 859.5 833 863.5 842 864C848 864.2 852 863.3 855.5 862.7" stroke="#333" stroke-width="0.6" fill="none"/>
<text transform="translate(761.8 884.1)" font-size="5.6" font-weight="bold" fill="#111">Designed</text>
<text transform="translate(823.3 884.1)" font-size="5.6" text-anchor="middle" font-weight="bold" fill="#111">A.D.</text>
<text transform="translate(859 884.1)" font-size="5.6" font-weight="bold" fill="#111">07.11.24</text>
<text transform="translate(761.8 892.8)" font-size="5.6" font-weight="bold" fill="#111">Drawn</text>
<text transform="translate(823.3 892.8)" font-size="5.6" text-anchor="middle" font-weight="bold" fill="#111">A.D.</text>
<text transform="translate(859 892.8)" font-size="5.6" font-weight="bold" fill="#111">07.11.24</text>
<text transform="translate(761.8 901.5)" font-size="5.6" font-weight="bold" fill="#111">Checked</text>
<text transform="translate(823.3 901.5)" font-size="5.6" text-anchor="middle" font-weight="bold" fill="#111">T.C.</text>
<text transform="translate(859 901.5)" font-size="5.6" font-weight="bold" fill="#111">21.11.24</text>
<text transform="translate(761.8 910.3)" font-size="5.45" font-weight="bold" fill="#111">Horizontal datum</text>
<text transform="translate(863.3 910.3)" font-size="5.6" font-weight="bold" fill="#111">MGA</text>
<text transform="translate(761.8 919.3)" font-size="5.63" font-weight="bold" fill="#111">Vertical datum</text>
<text transform="translate(864 919.3)" font-size="5.6" font-weight="bold" fill="#111">AHD</text>
<path d="M954.3 886.3L1305.5 886.3" stroke="#444" stroke-width="1" fill="none"/>
<path d="M1193.5 864.7L1305.5 864.7" stroke="#333" stroke-width="0.9" fill="none"/>
<path d="M1193.5 898.8L1305.5 898.8" stroke="#333" stroke-width="0.9" fill="none"/>
<path d="M1281.7 886.3L1281.7 921.5" stroke="#333" stroke-width="0.9" fill="none"/>
<text transform="translate(959 848.1)" font-size="5.75" font-weight="bold" fill="#111">Project:</text>
<text transform="translate(959 892.5)" font-size="5.75" font-weight="bold" fill="#111">Plan title:</text>
<text transform="translate(1079 855.3)" font-size="11.08" text-anchor="middle" font-weight="bold" fill="#111">South Beach Road</text>
<text transform="translate(1079 865.9)" font-size="11.12" text-anchor="middle" font-weight="bold" fill="#111">Road and Drainage Upgrade</text>
<text transform="translate(1079 876.3)" font-size="11.1" text-anchor="middle" font-weight="bold" fill="#111">Brunswick Heads</text>
<text transform="translate(1073.7 904.3)" font-size="11.01" text-anchor="middle" font-weight="bold" fill="#111">Site Plan</text>
<text transform="translate(1073.7 914.9)" font-size="11.13" text-anchor="middle" font-weight="bold" fill="#111">Sheet 7 of 7</text>
<text transform="translate(1195.5 848.1)" font-size="6.67" font-weight="bold" fill="#111">Project Pulse Number:</text>
<text transform="translate(1203.3 860)" font-size="11.28" fill="#111">PM20_1197</text>
<text transform="translate(1195.5 870.4)" font-size="6.68" font-weight="bold" fill="#111">Plan Register Number:</text>
<text transform="translate(1203.3 883)" font-size="11.24" fill="#111">2796</text>
<text transform="translate(1195.4 895.2)" font-size="6.59" font-weight="bold" fill="#111">Drawing number</text>
<text transform="translate(1285.1 895.5)" font-size="6.57" font-weight="bold" fill="#111">Issue</text>
<text transform="translate(1203.4 915.8)" font-size="15.37" font-weight="bold" fill="#111">2796-17</text>
<text transform="translate(1290 916.4)" font-size="15" font-weight="bold" fill="#111">1</text>
</g>
</svg>
</body></html>
